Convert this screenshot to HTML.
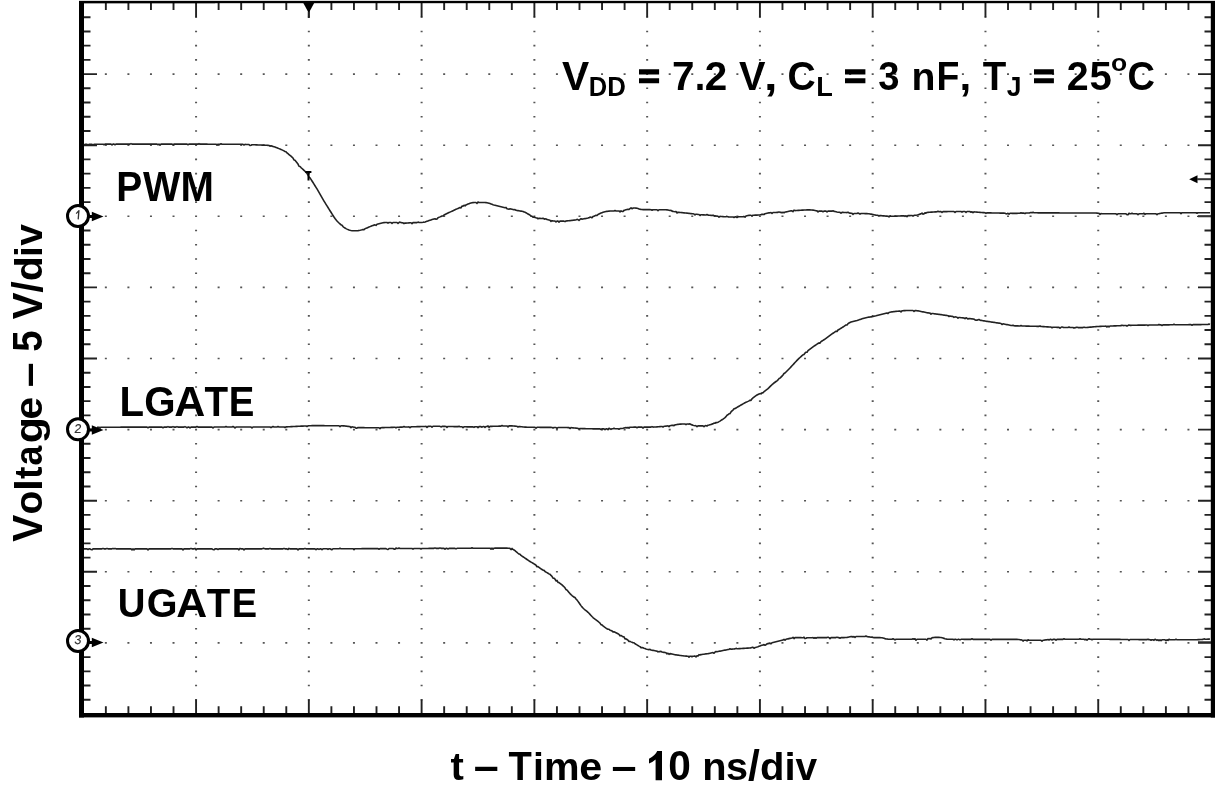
<!DOCTYPE html>
<html><head><meta charset="utf-8"><style>
html,body{margin:0;padding:0;background:#fff;width:1219px;height:792px;overflow:hidden}
svg{position:absolute;left:0;top:0;filter:grayscale(1)}
.t{position:absolute;font-family:"Liberation Sans",sans-serif;font-weight:bold;color:#000;white-space:nowrap;line-height:1}
</style></head><body>
<svg width="1219" height="792" viewBox="0 0 1219 792" font-family="Liberation Sans, sans-serif">
<path d="M104.85 73.3h2v1.6h-2zM127.41 73.3h2v1.6h-2zM149.96 73.3h2v1.6h-2zM172.52 73.3h2v1.6h-2zM217.62 73.3h2v1.6h-2zM240.18 73.3h2v1.6h-2zM262.73 73.3h2v1.6h-2zM285.29 73.3h2v1.6h-2zM330.39 73.3h2v1.6h-2zM352.95 73.3h2v1.6h-2zM375.5 73.3h2v1.6h-2zM398.06 73.3h2v1.6h-2zM443.16 73.3h2v1.6h-2zM465.72 73.3h2v1.6h-2zM488.27 73.3h2v1.6h-2zM510.83 73.3h2v1.6h-2zM555.93 73.3h2v1.6h-2zM578.49 73.3h2v1.6h-2zM601.04 73.3h2v1.6h-2zM623.6 73.3h2v1.6h-2zM668.7 73.3h2v1.6h-2zM691.26 73.3h2v1.6h-2zM713.81 73.3h2v1.6h-2zM736.37 73.3h2v1.6h-2zM781.47 73.3h2v1.6h-2zM804.03 73.3h2v1.6h-2zM826.58 73.3h2v1.6h-2zM849.14 73.3h2v1.6h-2zM894.24 73.3h2v1.6h-2zM916.8 73.3h2v1.6h-2zM939.35 73.3h2v1.6h-2zM961.91 73.3h2v1.6h-2zM1007.01 73.3h2v1.6h-2zM1029.57 73.3h2v1.6h-2zM1052.12 73.3h2v1.6h-2zM1074.68 73.3h2v1.6h-2zM1119.78 73.3h2v1.6h-2zM1142.34 73.3h2v1.6h-2zM1164.89 73.3h2v1.6h-2zM1187.45 73.3h2v1.6h-2zM104.85 144.4h2v1.6h-2zM127.41 144.4h2v1.6h-2zM149.96 144.4h2v1.6h-2zM172.52 144.4h2v1.6h-2zM217.62 144.4h2v1.6h-2zM240.18 144.4h2v1.6h-2zM262.73 144.4h2v1.6h-2zM285.29 144.4h2v1.6h-2zM330.39 144.4h2v1.6h-2zM352.95 144.4h2v1.6h-2zM375.5 144.4h2v1.6h-2zM398.06 144.4h2v1.6h-2zM443.16 144.4h2v1.6h-2zM465.72 144.4h2v1.6h-2zM488.27 144.4h2v1.6h-2zM510.83 144.4h2v1.6h-2zM555.93 144.4h2v1.6h-2zM578.49 144.4h2v1.6h-2zM601.04 144.4h2v1.6h-2zM623.6 144.4h2v1.6h-2zM668.7 144.4h2v1.6h-2zM691.26 144.4h2v1.6h-2zM713.81 144.4h2v1.6h-2zM736.37 144.4h2v1.6h-2zM781.47 144.4h2v1.6h-2zM804.03 144.4h2v1.6h-2zM826.58 144.4h2v1.6h-2zM849.14 144.4h2v1.6h-2zM894.24 144.4h2v1.6h-2zM916.8 144.4h2v1.6h-2zM939.35 144.4h2v1.6h-2zM961.91 144.4h2v1.6h-2zM1007.01 144.4h2v1.6h-2zM1029.57 144.4h2v1.6h-2zM1052.12 144.4h2v1.6h-2zM1074.68 144.4h2v1.6h-2zM1119.78 144.4h2v1.6h-2zM1142.34 144.4h2v1.6h-2zM1164.89 144.4h2v1.6h-2zM1187.45 144.4h2v1.6h-2zM104.85 215.5h2v1.6h-2zM127.41 215.5h2v1.6h-2zM149.96 215.5h2v1.6h-2zM172.52 215.5h2v1.6h-2zM217.62 215.5h2v1.6h-2zM240.18 215.5h2v1.6h-2zM262.73 215.5h2v1.6h-2zM285.29 215.5h2v1.6h-2zM330.39 215.5h2v1.6h-2zM352.95 215.5h2v1.6h-2zM375.5 215.5h2v1.6h-2zM398.06 215.5h2v1.6h-2zM443.16 215.5h2v1.6h-2zM465.72 215.5h2v1.6h-2zM488.27 215.5h2v1.6h-2zM510.83 215.5h2v1.6h-2zM555.93 215.5h2v1.6h-2zM578.49 215.5h2v1.6h-2zM601.04 215.5h2v1.6h-2zM623.6 215.5h2v1.6h-2zM668.7 215.5h2v1.6h-2zM691.26 215.5h2v1.6h-2zM713.81 215.5h2v1.6h-2zM736.37 215.5h2v1.6h-2zM781.47 215.5h2v1.6h-2zM804.03 215.5h2v1.6h-2zM826.58 215.5h2v1.6h-2zM849.14 215.5h2v1.6h-2zM894.24 215.5h2v1.6h-2zM916.8 215.5h2v1.6h-2zM939.35 215.5h2v1.6h-2zM961.91 215.5h2v1.6h-2zM1007.01 215.5h2v1.6h-2zM1029.57 215.5h2v1.6h-2zM1052.12 215.5h2v1.6h-2zM1074.68 215.5h2v1.6h-2zM1119.78 215.5h2v1.6h-2zM1142.34 215.5h2v1.6h-2zM1164.89 215.5h2v1.6h-2zM1187.45 215.5h2v1.6h-2zM104.85 286.6h2v1.6h-2zM127.41 286.6h2v1.6h-2zM149.96 286.6h2v1.6h-2zM172.52 286.6h2v1.6h-2zM217.62 286.6h2v1.6h-2zM240.18 286.6h2v1.6h-2zM262.73 286.6h2v1.6h-2zM285.29 286.6h2v1.6h-2zM330.39 286.6h2v1.6h-2zM352.95 286.6h2v1.6h-2zM375.5 286.6h2v1.6h-2zM398.06 286.6h2v1.6h-2zM443.16 286.6h2v1.6h-2zM465.72 286.6h2v1.6h-2zM488.27 286.6h2v1.6h-2zM510.83 286.6h2v1.6h-2zM555.93 286.6h2v1.6h-2zM578.49 286.6h2v1.6h-2zM601.04 286.6h2v1.6h-2zM623.6 286.6h2v1.6h-2zM668.7 286.6h2v1.6h-2zM691.26 286.6h2v1.6h-2zM713.81 286.6h2v1.6h-2zM736.37 286.6h2v1.6h-2zM781.47 286.6h2v1.6h-2zM804.03 286.6h2v1.6h-2zM826.58 286.6h2v1.6h-2zM849.14 286.6h2v1.6h-2zM894.24 286.6h2v1.6h-2zM916.8 286.6h2v1.6h-2zM939.35 286.6h2v1.6h-2zM961.91 286.6h2v1.6h-2zM1007.01 286.6h2v1.6h-2zM1029.57 286.6h2v1.6h-2zM1052.12 286.6h2v1.6h-2zM1074.68 286.6h2v1.6h-2zM1119.78 286.6h2v1.6h-2zM1142.34 286.6h2v1.6h-2zM1164.89 286.6h2v1.6h-2zM1187.45 286.6h2v1.6h-2zM104.85 357.7h2v1.6h-2zM127.41 357.7h2v1.6h-2zM149.96 357.7h2v1.6h-2zM172.52 357.7h2v1.6h-2zM217.62 357.7h2v1.6h-2zM240.18 357.7h2v1.6h-2zM262.73 357.7h2v1.6h-2zM285.29 357.7h2v1.6h-2zM330.39 357.7h2v1.6h-2zM352.95 357.7h2v1.6h-2zM375.5 357.7h2v1.6h-2zM398.06 357.7h2v1.6h-2zM443.16 357.7h2v1.6h-2zM465.72 357.7h2v1.6h-2zM488.27 357.7h2v1.6h-2zM510.83 357.7h2v1.6h-2zM555.93 357.7h2v1.6h-2zM578.49 357.7h2v1.6h-2zM601.04 357.7h2v1.6h-2zM623.6 357.7h2v1.6h-2zM668.7 357.7h2v1.6h-2zM691.26 357.7h2v1.6h-2zM713.81 357.7h2v1.6h-2zM736.37 357.7h2v1.6h-2zM781.47 357.7h2v1.6h-2zM804.03 357.7h2v1.6h-2zM826.58 357.7h2v1.6h-2zM849.14 357.7h2v1.6h-2zM894.24 357.7h2v1.6h-2zM916.8 357.7h2v1.6h-2zM939.35 357.7h2v1.6h-2zM961.91 357.7h2v1.6h-2zM1007.01 357.7h2v1.6h-2zM1029.57 357.7h2v1.6h-2zM1052.12 357.7h2v1.6h-2zM1074.68 357.7h2v1.6h-2zM1119.78 357.7h2v1.6h-2zM1142.34 357.7h2v1.6h-2zM1164.89 357.7h2v1.6h-2zM1187.45 357.7h2v1.6h-2zM104.85 428.8h2v1.6h-2zM127.41 428.8h2v1.6h-2zM149.96 428.8h2v1.6h-2zM172.52 428.8h2v1.6h-2zM217.62 428.8h2v1.6h-2zM240.18 428.8h2v1.6h-2zM262.73 428.8h2v1.6h-2zM285.29 428.8h2v1.6h-2zM330.39 428.8h2v1.6h-2zM352.95 428.8h2v1.6h-2zM375.5 428.8h2v1.6h-2zM398.06 428.8h2v1.6h-2zM443.16 428.8h2v1.6h-2zM465.72 428.8h2v1.6h-2zM488.27 428.8h2v1.6h-2zM510.83 428.8h2v1.6h-2zM555.93 428.8h2v1.6h-2zM578.49 428.8h2v1.6h-2zM601.04 428.8h2v1.6h-2zM623.6 428.8h2v1.6h-2zM668.7 428.8h2v1.6h-2zM691.26 428.8h2v1.6h-2zM713.81 428.8h2v1.6h-2zM736.37 428.8h2v1.6h-2zM781.47 428.8h2v1.6h-2zM804.03 428.8h2v1.6h-2zM826.58 428.8h2v1.6h-2zM849.14 428.8h2v1.6h-2zM894.24 428.8h2v1.6h-2zM916.8 428.8h2v1.6h-2zM939.35 428.8h2v1.6h-2zM961.91 428.8h2v1.6h-2zM1007.01 428.8h2v1.6h-2zM1029.57 428.8h2v1.6h-2zM1052.12 428.8h2v1.6h-2zM1074.68 428.8h2v1.6h-2zM1119.78 428.8h2v1.6h-2zM1142.34 428.8h2v1.6h-2zM1164.89 428.8h2v1.6h-2zM1187.45 428.8h2v1.6h-2zM104.85 499.9h2v1.6h-2zM127.41 499.9h2v1.6h-2zM149.96 499.9h2v1.6h-2zM172.52 499.9h2v1.6h-2zM217.62 499.9h2v1.6h-2zM240.18 499.9h2v1.6h-2zM262.73 499.9h2v1.6h-2zM285.29 499.9h2v1.6h-2zM330.39 499.9h2v1.6h-2zM352.95 499.9h2v1.6h-2zM375.5 499.9h2v1.6h-2zM398.06 499.9h2v1.6h-2zM443.16 499.9h2v1.6h-2zM465.72 499.9h2v1.6h-2zM488.27 499.9h2v1.6h-2zM510.83 499.9h2v1.6h-2zM555.93 499.9h2v1.6h-2zM578.49 499.9h2v1.6h-2zM601.04 499.9h2v1.6h-2zM623.6 499.9h2v1.6h-2zM668.7 499.9h2v1.6h-2zM691.26 499.9h2v1.6h-2zM713.81 499.9h2v1.6h-2zM736.37 499.9h2v1.6h-2zM781.47 499.9h2v1.6h-2zM804.03 499.9h2v1.6h-2zM826.58 499.9h2v1.6h-2zM849.14 499.9h2v1.6h-2zM894.24 499.9h2v1.6h-2zM916.8 499.9h2v1.6h-2zM939.35 499.9h2v1.6h-2zM961.91 499.9h2v1.6h-2zM1007.01 499.9h2v1.6h-2zM1029.57 499.9h2v1.6h-2zM1052.12 499.9h2v1.6h-2zM1074.68 499.9h2v1.6h-2zM1119.78 499.9h2v1.6h-2zM1142.34 499.9h2v1.6h-2zM1164.89 499.9h2v1.6h-2zM1187.45 499.9h2v1.6h-2zM104.85 571h2v1.6h-2zM127.41 571h2v1.6h-2zM149.96 571h2v1.6h-2zM172.52 571h2v1.6h-2zM217.62 571h2v1.6h-2zM240.18 571h2v1.6h-2zM262.73 571h2v1.6h-2zM285.29 571h2v1.6h-2zM330.39 571h2v1.6h-2zM352.95 571h2v1.6h-2zM375.5 571h2v1.6h-2zM398.06 571h2v1.6h-2zM443.16 571h2v1.6h-2zM465.72 571h2v1.6h-2zM488.27 571h2v1.6h-2zM510.83 571h2v1.6h-2zM555.93 571h2v1.6h-2zM578.49 571h2v1.6h-2zM601.04 571h2v1.6h-2zM623.6 571h2v1.6h-2zM668.7 571h2v1.6h-2zM691.26 571h2v1.6h-2zM713.81 571h2v1.6h-2zM736.37 571h2v1.6h-2zM781.47 571h2v1.6h-2zM804.03 571h2v1.6h-2zM826.58 571h2v1.6h-2zM849.14 571h2v1.6h-2zM894.24 571h2v1.6h-2zM916.8 571h2v1.6h-2zM939.35 571h2v1.6h-2zM961.91 571h2v1.6h-2zM1007.01 571h2v1.6h-2zM1029.57 571h2v1.6h-2zM1052.12 571h2v1.6h-2zM1074.68 571h2v1.6h-2zM1119.78 571h2v1.6h-2zM1142.34 571h2v1.6h-2zM1164.89 571h2v1.6h-2zM1187.45 571h2v1.6h-2zM104.85 642.1h2v1.6h-2zM127.41 642.1h2v1.6h-2zM149.96 642.1h2v1.6h-2zM172.52 642.1h2v1.6h-2zM217.62 642.1h2v1.6h-2zM240.18 642.1h2v1.6h-2zM262.73 642.1h2v1.6h-2zM285.29 642.1h2v1.6h-2zM330.39 642.1h2v1.6h-2zM352.95 642.1h2v1.6h-2zM375.5 642.1h2v1.6h-2zM398.06 642.1h2v1.6h-2zM443.16 642.1h2v1.6h-2zM465.72 642.1h2v1.6h-2zM488.27 642.1h2v1.6h-2zM510.83 642.1h2v1.6h-2zM555.93 642.1h2v1.6h-2zM578.49 642.1h2v1.6h-2zM601.04 642.1h2v1.6h-2zM623.6 642.1h2v1.6h-2zM668.7 642.1h2v1.6h-2zM691.26 642.1h2v1.6h-2zM713.81 642.1h2v1.6h-2zM736.37 642.1h2v1.6h-2zM781.47 642.1h2v1.6h-2zM804.03 642.1h2v1.6h-2zM826.58 642.1h2v1.6h-2zM849.14 642.1h2v1.6h-2zM894.24 642.1h2v1.6h-2zM916.8 642.1h2v1.6h-2zM939.35 642.1h2v1.6h-2zM961.91 642.1h2v1.6h-2zM1007.01 642.1h2v1.6h-2zM1029.57 642.1h2v1.6h-2zM1052.12 642.1h2v1.6h-2zM1074.68 642.1h2v1.6h-2zM1119.78 642.1h2v1.6h-2zM1142.34 642.1h2v1.6h-2zM1164.89 642.1h2v1.6h-2zM1187.45 642.1h2v1.6h-2zM195.07 16.42h2v1.6h-2zM195.07 30.64h2v1.6h-2zM195.07 44.86h2v1.6h-2zM195.07 59.08h2v1.6h-2zM195.07 87.52h2v1.6h-2zM195.07 101.74h2v1.6h-2zM195.07 115.96h2v1.6h-2zM195.07 130.18h2v1.6h-2zM195.07 158.62h2v1.6h-2zM195.07 172.84h2v1.6h-2zM195.07 187.06h2v1.6h-2zM195.07 201.28h2v1.6h-2zM195.07 229.72h2v1.6h-2zM195.07 243.94h2v1.6h-2zM195.07 258.16h2v1.6h-2zM195.07 272.38h2v1.6h-2zM195.07 300.82h2v1.6h-2zM195.07 315.04h2v1.6h-2zM195.07 329.26h2v1.6h-2zM195.07 343.48h2v1.6h-2zM195.07 371.92h2v1.6h-2zM195.07 386.14h2v1.6h-2zM195.07 400.36h2v1.6h-2zM195.07 414.58h2v1.6h-2zM195.07 443.02h2v1.6h-2zM195.07 457.24h2v1.6h-2zM195.07 471.46h2v1.6h-2zM195.07 485.68h2v1.6h-2zM195.07 514.12h2v1.6h-2zM195.07 528.34h2v1.6h-2zM195.07 542.56h2v1.6h-2zM195.07 556.78h2v1.6h-2zM195.07 585.22h2v1.6h-2zM195.07 599.44h2v1.6h-2zM195.07 613.66h2v1.6h-2zM195.07 627.88h2v1.6h-2zM195.07 656.32h2v1.6h-2zM195.07 670.54h2v1.6h-2zM195.07 684.76h2v1.6h-2zM195.07 698.98h2v1.6h-2zM307.84 16.42h2v1.6h-2zM307.84 30.64h2v1.6h-2zM307.84 44.86h2v1.6h-2zM307.84 59.08h2v1.6h-2zM307.84 87.52h2v1.6h-2zM307.84 101.74h2v1.6h-2zM307.84 115.96h2v1.6h-2zM307.84 130.18h2v1.6h-2zM307.84 158.62h2v1.6h-2zM307.84 172.84h2v1.6h-2zM307.84 187.06h2v1.6h-2zM307.84 201.28h2v1.6h-2zM307.84 229.72h2v1.6h-2zM307.84 243.94h2v1.6h-2zM307.84 258.16h2v1.6h-2zM307.84 272.38h2v1.6h-2zM307.84 300.82h2v1.6h-2zM307.84 315.04h2v1.6h-2zM307.84 329.26h2v1.6h-2zM307.84 343.48h2v1.6h-2zM307.84 371.92h2v1.6h-2zM307.84 386.14h2v1.6h-2zM307.84 400.36h2v1.6h-2zM307.84 414.58h2v1.6h-2zM307.84 443.02h2v1.6h-2zM307.84 457.24h2v1.6h-2zM307.84 471.46h2v1.6h-2zM307.84 485.68h2v1.6h-2zM307.84 514.12h2v1.6h-2zM307.84 528.34h2v1.6h-2zM307.84 542.56h2v1.6h-2zM307.84 556.78h2v1.6h-2zM307.84 585.22h2v1.6h-2zM307.84 599.44h2v1.6h-2zM307.84 613.66h2v1.6h-2zM307.84 627.88h2v1.6h-2zM307.84 656.32h2v1.6h-2zM307.84 670.54h2v1.6h-2zM307.84 684.76h2v1.6h-2zM307.84 698.98h2v1.6h-2zM420.61 16.42h2v1.6h-2zM420.61 30.64h2v1.6h-2zM420.61 44.86h2v1.6h-2zM420.61 59.08h2v1.6h-2zM420.61 87.52h2v1.6h-2zM420.61 101.74h2v1.6h-2zM420.61 115.96h2v1.6h-2zM420.61 130.18h2v1.6h-2zM420.61 158.62h2v1.6h-2zM420.61 172.84h2v1.6h-2zM420.61 187.06h2v1.6h-2zM420.61 201.28h2v1.6h-2zM420.61 229.72h2v1.6h-2zM420.61 243.94h2v1.6h-2zM420.61 258.16h2v1.6h-2zM420.61 272.38h2v1.6h-2zM420.61 300.82h2v1.6h-2zM420.61 315.04h2v1.6h-2zM420.61 329.26h2v1.6h-2zM420.61 343.48h2v1.6h-2zM420.61 371.92h2v1.6h-2zM420.61 386.14h2v1.6h-2zM420.61 400.36h2v1.6h-2zM420.61 414.58h2v1.6h-2zM420.61 443.02h2v1.6h-2zM420.61 457.24h2v1.6h-2zM420.61 471.46h2v1.6h-2zM420.61 485.68h2v1.6h-2zM420.61 514.12h2v1.6h-2zM420.61 528.34h2v1.6h-2zM420.61 542.56h2v1.6h-2zM420.61 556.78h2v1.6h-2zM420.61 585.22h2v1.6h-2zM420.61 599.44h2v1.6h-2zM420.61 613.66h2v1.6h-2zM420.61 627.88h2v1.6h-2zM420.61 656.32h2v1.6h-2zM420.61 670.54h2v1.6h-2zM420.61 684.76h2v1.6h-2zM420.61 698.98h2v1.6h-2zM533.38 16.42h2v1.6h-2zM533.38 30.64h2v1.6h-2zM533.38 44.86h2v1.6h-2zM533.38 59.08h2v1.6h-2zM533.38 87.52h2v1.6h-2zM533.38 101.74h2v1.6h-2zM533.38 115.96h2v1.6h-2zM533.38 130.18h2v1.6h-2zM533.38 158.62h2v1.6h-2zM533.38 172.84h2v1.6h-2zM533.38 187.06h2v1.6h-2zM533.38 201.28h2v1.6h-2zM533.38 229.72h2v1.6h-2zM533.38 243.94h2v1.6h-2zM533.38 258.16h2v1.6h-2zM533.38 272.38h2v1.6h-2zM533.38 300.82h2v1.6h-2zM533.38 315.04h2v1.6h-2zM533.38 329.26h2v1.6h-2zM533.38 343.48h2v1.6h-2zM533.38 371.92h2v1.6h-2zM533.38 386.14h2v1.6h-2zM533.38 400.36h2v1.6h-2zM533.38 414.58h2v1.6h-2zM533.38 443.02h2v1.6h-2zM533.38 457.24h2v1.6h-2zM533.38 471.46h2v1.6h-2zM533.38 485.68h2v1.6h-2zM533.38 514.12h2v1.6h-2zM533.38 528.34h2v1.6h-2zM533.38 542.56h2v1.6h-2zM533.38 556.78h2v1.6h-2zM533.38 585.22h2v1.6h-2zM533.38 599.44h2v1.6h-2zM533.38 613.66h2v1.6h-2zM533.38 627.88h2v1.6h-2zM533.38 656.32h2v1.6h-2zM533.38 670.54h2v1.6h-2zM533.38 684.76h2v1.6h-2zM533.38 698.98h2v1.6h-2zM646.15 16.42h2v1.6h-2zM646.15 30.64h2v1.6h-2zM646.15 44.86h2v1.6h-2zM646.15 59.08h2v1.6h-2zM646.15 87.52h2v1.6h-2zM646.15 101.74h2v1.6h-2zM646.15 115.96h2v1.6h-2zM646.15 130.18h2v1.6h-2zM646.15 158.62h2v1.6h-2zM646.15 172.84h2v1.6h-2zM646.15 187.06h2v1.6h-2zM646.15 201.28h2v1.6h-2zM646.15 229.72h2v1.6h-2zM646.15 243.94h2v1.6h-2zM646.15 258.16h2v1.6h-2zM646.15 272.38h2v1.6h-2zM646.15 300.82h2v1.6h-2zM646.15 315.04h2v1.6h-2zM646.15 329.26h2v1.6h-2zM646.15 343.48h2v1.6h-2zM646.15 371.92h2v1.6h-2zM646.15 386.14h2v1.6h-2zM646.15 400.36h2v1.6h-2zM646.15 414.58h2v1.6h-2zM646.15 443.02h2v1.6h-2zM646.15 457.24h2v1.6h-2zM646.15 471.46h2v1.6h-2zM646.15 485.68h2v1.6h-2zM646.15 514.12h2v1.6h-2zM646.15 528.34h2v1.6h-2zM646.15 542.56h2v1.6h-2zM646.15 556.78h2v1.6h-2zM646.15 585.22h2v1.6h-2zM646.15 599.44h2v1.6h-2zM646.15 613.66h2v1.6h-2zM646.15 627.88h2v1.6h-2zM646.15 656.32h2v1.6h-2zM646.15 670.54h2v1.6h-2zM646.15 684.76h2v1.6h-2zM646.15 698.98h2v1.6h-2zM758.92 16.42h2v1.6h-2zM758.92 30.64h2v1.6h-2zM758.92 44.86h2v1.6h-2zM758.92 59.08h2v1.6h-2zM758.92 87.52h2v1.6h-2zM758.92 101.74h2v1.6h-2zM758.92 115.96h2v1.6h-2zM758.92 130.18h2v1.6h-2zM758.92 158.62h2v1.6h-2zM758.92 172.84h2v1.6h-2zM758.92 187.06h2v1.6h-2zM758.92 201.28h2v1.6h-2zM758.92 229.72h2v1.6h-2zM758.92 243.94h2v1.6h-2zM758.92 258.16h2v1.6h-2zM758.92 272.38h2v1.6h-2zM758.92 300.82h2v1.6h-2zM758.92 315.04h2v1.6h-2zM758.92 329.26h2v1.6h-2zM758.92 343.48h2v1.6h-2zM758.92 371.92h2v1.6h-2zM758.92 386.14h2v1.6h-2zM758.92 400.36h2v1.6h-2zM758.92 414.58h2v1.6h-2zM758.92 443.02h2v1.6h-2zM758.92 457.24h2v1.6h-2zM758.92 471.46h2v1.6h-2zM758.92 485.68h2v1.6h-2zM758.92 514.12h2v1.6h-2zM758.92 528.34h2v1.6h-2zM758.92 542.56h2v1.6h-2zM758.92 556.78h2v1.6h-2zM758.92 585.22h2v1.6h-2zM758.92 599.44h2v1.6h-2zM758.92 613.66h2v1.6h-2zM758.92 627.88h2v1.6h-2zM758.92 656.32h2v1.6h-2zM758.92 670.54h2v1.6h-2zM758.92 684.76h2v1.6h-2zM758.92 698.98h2v1.6h-2zM871.69 16.42h2v1.6h-2zM871.69 30.64h2v1.6h-2zM871.69 44.86h2v1.6h-2zM871.69 59.08h2v1.6h-2zM871.69 87.52h2v1.6h-2zM871.69 101.74h2v1.6h-2zM871.69 115.96h2v1.6h-2zM871.69 130.18h2v1.6h-2zM871.69 158.62h2v1.6h-2zM871.69 172.84h2v1.6h-2zM871.69 187.06h2v1.6h-2zM871.69 201.28h2v1.6h-2zM871.69 229.72h2v1.6h-2zM871.69 243.94h2v1.6h-2zM871.69 258.16h2v1.6h-2zM871.69 272.38h2v1.6h-2zM871.69 300.82h2v1.6h-2zM871.69 315.04h2v1.6h-2zM871.69 329.26h2v1.6h-2zM871.69 343.48h2v1.6h-2zM871.69 371.92h2v1.6h-2zM871.69 386.14h2v1.6h-2zM871.69 400.36h2v1.6h-2zM871.69 414.58h2v1.6h-2zM871.69 443.02h2v1.6h-2zM871.69 457.24h2v1.6h-2zM871.69 471.46h2v1.6h-2zM871.69 485.68h2v1.6h-2zM871.69 514.12h2v1.6h-2zM871.69 528.34h2v1.6h-2zM871.69 542.56h2v1.6h-2zM871.69 556.78h2v1.6h-2zM871.69 585.22h2v1.6h-2zM871.69 599.44h2v1.6h-2zM871.69 613.66h2v1.6h-2zM871.69 627.88h2v1.6h-2zM871.69 656.32h2v1.6h-2zM871.69 670.54h2v1.6h-2zM871.69 684.76h2v1.6h-2zM871.69 698.98h2v1.6h-2zM984.46 16.42h2v1.6h-2zM984.46 30.64h2v1.6h-2zM984.46 44.86h2v1.6h-2zM984.46 59.08h2v1.6h-2zM984.46 87.52h2v1.6h-2zM984.46 101.74h2v1.6h-2zM984.46 115.96h2v1.6h-2zM984.46 130.18h2v1.6h-2zM984.46 158.62h2v1.6h-2zM984.46 172.84h2v1.6h-2zM984.46 187.06h2v1.6h-2zM984.46 201.28h2v1.6h-2zM984.46 229.72h2v1.6h-2zM984.46 243.94h2v1.6h-2zM984.46 258.16h2v1.6h-2zM984.46 272.38h2v1.6h-2zM984.46 300.82h2v1.6h-2zM984.46 315.04h2v1.6h-2zM984.46 329.26h2v1.6h-2zM984.46 343.48h2v1.6h-2zM984.46 371.92h2v1.6h-2zM984.46 386.14h2v1.6h-2zM984.46 400.36h2v1.6h-2zM984.46 414.58h2v1.6h-2zM984.46 443.02h2v1.6h-2zM984.46 457.24h2v1.6h-2zM984.46 471.46h2v1.6h-2zM984.46 485.68h2v1.6h-2zM984.46 514.12h2v1.6h-2zM984.46 528.34h2v1.6h-2zM984.46 542.56h2v1.6h-2zM984.46 556.78h2v1.6h-2zM984.46 585.22h2v1.6h-2zM984.46 599.44h2v1.6h-2zM984.46 613.66h2v1.6h-2zM984.46 627.88h2v1.6h-2zM984.46 656.32h2v1.6h-2zM984.46 670.54h2v1.6h-2zM984.46 684.76h2v1.6h-2zM984.46 698.98h2v1.6h-2zM1097.23 16.42h2v1.6h-2zM1097.23 30.64h2v1.6h-2zM1097.23 44.86h2v1.6h-2zM1097.23 59.08h2v1.6h-2zM1097.23 87.52h2v1.6h-2zM1097.23 101.74h2v1.6h-2zM1097.23 115.96h2v1.6h-2zM1097.23 130.18h2v1.6h-2zM1097.23 158.62h2v1.6h-2zM1097.23 172.84h2v1.6h-2zM1097.23 187.06h2v1.6h-2zM1097.23 201.28h2v1.6h-2zM1097.23 229.72h2v1.6h-2zM1097.23 243.94h2v1.6h-2zM1097.23 258.16h2v1.6h-2zM1097.23 272.38h2v1.6h-2zM1097.23 300.82h2v1.6h-2zM1097.23 315.04h2v1.6h-2zM1097.23 329.26h2v1.6h-2zM1097.23 343.48h2v1.6h-2zM1097.23 371.92h2v1.6h-2zM1097.23 386.14h2v1.6h-2zM1097.23 400.36h2v1.6h-2zM1097.23 414.58h2v1.6h-2zM1097.23 443.02h2v1.6h-2zM1097.23 457.24h2v1.6h-2zM1097.23 471.46h2v1.6h-2zM1097.23 485.68h2v1.6h-2zM1097.23 514.12h2v1.6h-2zM1097.23 528.34h2v1.6h-2zM1097.23 542.56h2v1.6h-2zM1097.23 556.78h2v1.6h-2zM1097.23 585.22h2v1.6h-2zM1097.23 599.44h2v1.6h-2zM1097.23 613.66h2v1.6h-2zM1097.23 627.88h2v1.6h-2zM1097.23 656.32h2v1.6h-2zM1097.23 670.54h2v1.6h-2zM1097.23 684.76h2v1.6h-2zM1097.23 698.98h2v1.6h-2zM195.07 73.3h2v1.6h-2zM195.07 144.4h2v1.6h-2zM195.07 215.5h2v1.6h-2zM195.07 286.6h2v1.6h-2zM195.07 357.7h2v1.6h-2zM195.07 428.8h2v1.6h-2zM195.07 499.9h2v1.6h-2zM195.07 571h2v1.6h-2zM195.07 642.1h2v1.6h-2zM307.84 73.3h2v1.6h-2zM307.84 144.4h2v1.6h-2zM307.84 215.5h2v1.6h-2zM307.84 286.6h2v1.6h-2zM307.84 357.7h2v1.6h-2zM307.84 428.8h2v1.6h-2zM307.84 499.9h2v1.6h-2zM307.84 571h2v1.6h-2zM307.84 642.1h2v1.6h-2zM420.61 73.3h2v1.6h-2zM420.61 144.4h2v1.6h-2zM420.61 215.5h2v1.6h-2zM420.61 286.6h2v1.6h-2zM420.61 357.7h2v1.6h-2zM420.61 428.8h2v1.6h-2zM420.61 499.9h2v1.6h-2zM420.61 571h2v1.6h-2zM420.61 642.1h2v1.6h-2zM533.38 73.3h2v1.6h-2zM533.38 144.4h2v1.6h-2zM533.38 215.5h2v1.6h-2zM533.38 286.6h2v1.6h-2zM533.38 357.7h2v1.6h-2zM533.38 428.8h2v1.6h-2zM533.38 499.9h2v1.6h-2zM533.38 571h2v1.6h-2zM533.38 642.1h2v1.6h-2zM646.15 73.3h2v1.6h-2zM646.15 144.4h2v1.6h-2zM646.15 215.5h2v1.6h-2zM646.15 286.6h2v1.6h-2zM646.15 357.7h2v1.6h-2zM646.15 428.8h2v1.6h-2zM646.15 499.9h2v1.6h-2zM646.15 571h2v1.6h-2zM646.15 642.1h2v1.6h-2zM758.92 73.3h2v1.6h-2zM758.92 144.4h2v1.6h-2zM758.92 215.5h2v1.6h-2zM758.92 286.6h2v1.6h-2zM758.92 357.7h2v1.6h-2zM758.92 428.8h2v1.6h-2zM758.92 499.9h2v1.6h-2zM758.92 571h2v1.6h-2zM758.92 642.1h2v1.6h-2zM871.69 73.3h2v1.6h-2zM871.69 144.4h2v1.6h-2zM871.69 215.5h2v1.6h-2zM871.69 286.6h2v1.6h-2zM871.69 357.7h2v1.6h-2zM871.69 428.8h2v1.6h-2zM871.69 499.9h2v1.6h-2zM871.69 571h2v1.6h-2zM871.69 642.1h2v1.6h-2zM984.46 73.3h2v1.6h-2zM984.46 144.4h2v1.6h-2zM984.46 215.5h2v1.6h-2zM984.46 286.6h2v1.6h-2zM984.46 357.7h2v1.6h-2zM984.46 428.8h2v1.6h-2zM984.46 499.9h2v1.6h-2zM984.46 571h2v1.6h-2zM984.46 642.1h2v1.6h-2zM1097.23 73.3h2v1.6h-2zM1097.23 144.4h2v1.6h-2zM1097.23 215.5h2v1.6h-2zM1097.23 286.6h2v1.6h-2zM1097.23 357.7h2v1.6h-2zM1097.23 428.8h2v1.6h-2zM1097.23 499.9h2v1.6h-2zM1097.23 571h2v1.6h-2zM1097.23 642.1h2v1.6h-2z" fill="#555"/>
<path d="M105.85 3v7M105.85 713v-6.8M128.41 3v7M128.41 713v-6.8M150.96 3v7M150.96 713v-6.8M173.52 3v7M173.52 713v-6.8M196.07 3v14M196.07 713v-13.5M218.62 3v7M218.62 713v-6.8M241.18 3v7M241.18 713v-6.8M263.73 3v7M263.73 713v-6.8M286.29 3v7M286.29 713v-6.8M308.84 3v14M308.84 713v-13.5M331.39 3v7M331.39 713v-6.8M353.95 3v7M353.95 713v-6.8M376.5 3v7M376.5 713v-6.8M399.06 3v7M399.06 713v-6.8M421.61 3v14M421.61 713v-13.5M444.16 3v7M444.16 713v-6.8M466.72 3v7M466.72 713v-6.8M489.27 3v7M489.27 713v-6.8M511.83 3v7M511.83 713v-6.8M534.38 3v14M534.38 713v-13.5M556.93 3v7M556.93 713v-6.8M579.49 3v7M579.49 713v-6.8M602.04 3v7M602.04 713v-6.8M624.6 3v7M624.6 713v-6.8M647.15 3v14M647.15 713v-13.5M669.7 3v7M669.7 713v-6.8M692.26 3v7M692.26 713v-6.8M714.81 3v7M714.81 713v-6.8M737.37 3v7M737.37 713v-6.8M759.92 3v14M759.92 713v-13.5M782.47 3v7M782.47 713v-6.8M805.03 3v7M805.03 713v-6.8M827.58 3v7M827.58 713v-6.8M850.14 3v7M850.14 713v-6.8M872.69 3v14M872.69 713v-13.5M895.24 3v7M895.24 713v-6.8M917.8 3v7M917.8 713v-6.8M940.35 3v7M940.35 713v-6.8M962.91 3v7M962.91 713v-6.8M985.46 3v14M985.46 713v-13.5M1008.01 3v7M1008.01 713v-6.8M1030.57 3v7M1030.57 713v-6.8M1053.12 3v7M1053.12 713v-6.8M1075.68 3v7M1075.68 713v-6.8M1098.23 3v14M1098.23 713v-13.5M1120.78 3v7M1120.78 713v-6.8M1143.34 3v7M1143.34 713v-6.8M1165.89 3v7M1165.89 713v-6.8M1188.45 3v7M1188.45 713v-6.8M84 17.22h6.5M1211 17.22h-6.5M84 31.44h6.5M1211 31.44h-6.5M84 45.66h6.5M1211 45.66h-6.5M84 59.88h6.5M1211 59.88h-6.5M84 74.1h13M1211 74.1h-13M84 88.32h6.5M1211 88.32h-6.5M84 102.54h6.5M1211 102.54h-6.5M84 116.76h6.5M1211 116.76h-6.5M84 130.98h6.5M1211 130.98h-6.5M84 145.2h13M1211 145.2h-13M84 159.42h6.5M1211 159.42h-6.5M84 173.64h6.5M1211 173.64h-6.5M84 187.86h6.5M1211 187.86h-6.5M84 202.08h6.5M1211 202.08h-6.5M84 216.3h13M1211 216.3h-13M84 230.52h6.5M1211 230.52h-6.5M84 244.74h6.5M1211 244.74h-6.5M84 258.96h6.5M1211 258.96h-6.5M84 273.18h6.5M1211 273.18h-6.5M84 287.4h13M1211 287.4h-13M84 301.62h6.5M1211 301.62h-6.5M84 315.84h6.5M1211 315.84h-6.5M84 330.06h6.5M1211 330.06h-6.5M84 344.28h6.5M1211 344.28h-6.5M84 358.5h13M1211 358.5h-13M84 372.72h6.5M1211 372.72h-6.5M84 386.94h6.5M1211 386.94h-6.5M84 401.16h6.5M1211 401.16h-6.5M84 415.38h6.5M1211 415.38h-6.5M84 429.6h13M1211 429.6h-13M84 443.82h6.5M1211 443.82h-6.5M84 458.04h6.5M1211 458.04h-6.5M84 472.26h6.5M1211 472.26h-6.5M84 486.48h6.5M1211 486.48h-6.5M84 500.7h13M1211 500.7h-13M84 514.92h6.5M1211 514.92h-6.5M84 529.14h6.5M1211 529.14h-6.5M84 543.36h6.5M1211 543.36h-6.5M84 557.58h6.5M1211 557.58h-6.5M84 571.8h13M1211 571.8h-13M84 586.02h6.5M1211 586.02h-6.5M84 600.24h6.5M1211 600.24h-6.5M84 614.46h6.5M1211 614.46h-6.5M84 628.68h6.5M1211 628.68h-6.5M84 642.9h13M1211 642.9h-13M84 657.12h6.5M1211 657.12h-6.5M84 671.34h6.5M1211 671.34h-6.5M84 685.56h6.5M1211 685.56h-6.5M84 699.78h6.5M1211 699.78h-6.5" stroke="#222" stroke-width="1.9" fill="none"/>
<rect x="79" y="0" width="1136" height="1.1" fill="#d8d8d8"/>
<rect x="79" y="1" width="136.2" height="2.2" fill="#000"/>
<rect x="79" y="1" width="1136" height="2.2" fill="#000"/>
<rect x="79" y="1" width="5" height="716.5" fill="#000"/>
<rect x="1210.8" y="1" width="4.2" height="716.5" fill="#000"/>
<rect x="79" y="713" width="1136" height="4.4" fill="#000"/>
<g fill="none" stroke="#222" stroke-width="1.6" stroke-linejoin="round"><path d="M84 145.29L85 144.38L86 144.38L87 144.36L88 145.25L89 144.34L90 144.33L91 144.32L92 144.31L93 145.20L94 144.28L95 144.27L96 144.26L97 144.25L98 144.24L99 144.23L100 144.22L101 144.20L102 144.19L103 144.18L104 144.77L105 144.16L106 144.15L107 144.14L108 144.13L109 144.12L110 144.11L111 144.11L112 145.00L113 144.10L114 144.10L115 144.70L116 144.10L117 144.11L118 144.11L119 144.11L120 144.11L121 144.11L122 144.11L123 144.11L124 144.11L125 144.11L126 144.11L127 144.11L128 144.11L129 144.11L130 144.12L131 143.62L132 144.12L133 144.12L134 144.12L135 144.12L136 144.12L137 144.12L138 144.12L139 144.12L140 144.12L141 144.12L142 144.12L143 144.13L144 144.13L145 144.13L146 144.13L147 144.13L148 144.13L149 144.13L150 144.13L151 144.13L152 144.13L153 144.13L154 144.13L155 144.13L156 144.14L157 144.14L158 144.74L159 144.14L160 145.04L161 144.14L162 144.14L163 144.14L164 144.14L165 144.14L166 144.14L167 144.14L168 144.14L169 144.15L170 144.15L171 144.15L172 144.15L173 144.75L174 144.15L175 144.15L176 144.15L177 144.15L178 144.15L179 144.15L180 144.15L181 144.15L182 144.16L183 144.16L184 144.16L185 144.16L186 144.16L187 144.16L188 144.76L189 144.16L190 144.16L191 144.16L192 144.16L193 144.16L194 144.16L195 144.17L196 144.17L197 144.17L198 144.17L199 143.67L200 144.17L201 144.17L202 144.17L203 144.17L204 144.17L205 144.17L206 144.17L207 144.17L208 144.18L209 144.18L210 144.18L211 144.18L212 144.18L213 144.18L214 144.18L215 144.18L216 144.18L217 145.08L218 144.18L219 144.18L220 144.18L221 143.69L222 144.19L223 144.19L224 144.19L225 144.19L226 144.19L227 144.19L228 144.19L229 144.19L230 144.19L231 144.19L232 144.19L233 144.19L234 144.20L235 144.20L236 144.20L237 144.20L238 144.21L239 144.21L240 144.23L241 144.26L242 144.29L243 144.32L244 144.96L245 144.40L246 144.44L247 144.48L248 144.52L249 144.57L250 145.51L251 145.25L252 144.69L253 144.73L254 144.77L255 144.81L256 144.85L257 144.89L258 144.93L259 144.97L260 145.01L261 145.05L262 145.09L263 145.13L264 145.17L265 145.21L266 145.25L267 145.30L268 145.37L269 145.48L270 146.23L271 145.85L272 146.12L273 146.42L274 146.75L275 147.10L276 147.46L277 147.83L278 148.22L279 148.62L280 149.02L281 149.44L282 149.87L283 150.35L284 150.89L285 151.51L286 151.70L287 152.95L288 153.74L289 154.54L290 155.36L291 156.20L292 157.07L293 158.02L294 159.97L295 160.23L296 161.49L297 162.80L298 164.11L299 166.27L300 166.52L301 167.57L302 168.51L303 169.41L304 170.31L305 171.27L306 172.36L307 173.58L308 174.93L309 176.98L310 177.88L311 179.42L312 180.98L313 182.55L314 184.12L315 185.70L316 187.30L317 188.92L318 190.58L319 192.29L320 194.03L321 195.80L322 197.57L323 199.32L324 201.03L325 202.70L326 204.33L327 205.94L328 207.53L329 209.12L330 210.71L331 212.30L332 213.89L333 215.46L334 216.99L335 218.43L336 219.75L337 220.95L338 222.02L339 223.01L340 223.95L341 224.87L342 225.25L343 226.59L344 227.35L345 228.02L346 228.60L347 229.12L348 229.58L349 229.99L350 230.33L351 230.57L352 230.71L353 230.78L354 230.80L355 230.78L356 230.75L357 230.70L358 230.60L359 230.46L360 230.27L361 230.03L362 229.75L363 229.44L364 229.70L365 228.74L366 228.35L367 227.93L368 227.50L369 227.07L370 226.64L371 226.22L372 225.83L373 225.46L374 225.13L375 224.83L376 225.44L377 224.26L378 223.99L379 223.72L380 223.46L381 223.20L382 222.98L383 222.79L384 222.65L385 222.57L386 222.53L387 222.51L388 223.10L389 222.50L390 222.50L391 222.50L392 223.40L393 222.50L394 222.50L395 222.50L396 222.50L397 222.50L398 223.41L399 222.54L400 222.08L401 222.65L402 222.75L403 222.87L404 223.58L405 223.05L406 223.08L407 223.05L408 222.98L409 222.90L410 222.82L411 222.75L412 223.61L413 222.67L414 222.65L415 222.63L416 222.62L417 222.60L418 222.09L419 222.57L420 222.55L421 222.51L422 222.45L423 222.33L424 222.16L425 221.91L426 221.61L427 221.27L428 220.92L429 220.57L430 220.23L431 219.91L432 219.60L433 219.30L434 219.01L435 218.71L436 219.31L437 218.98L438 217.72L439 217.32L440 216.89L441 216.42L442 215.95L443 216.07L444 214.98L445 214.50L446 214.01L447 213.53L448 213.05L449 212.57L450 212.10L451 211.64L452 211.18L453 210.72L454 210.26L455 209.80L456 209.34L457 208.88L458 208.43L459 207.97L460 207.52L461 207.97L462 206.12L463 206.18L464 205.25L465 205.92L466 204.89L467 204.48L468 204.07L469 203.68L470 203.32L471 203.02L472 202.79L473 202.64L474 202.56L475 202.52L476 202.51L477 203.40L478 202.00L479 202.50L480 202.50L481 202.50L482 202.50L483 202.50L484 202.51L485 202.54L486 202.61L487 202.74L488 202.95L489 203.22L490 203.56L491 203.92L492 204.29L493 204.65L494 204.98L495 205.28L496 205.56L497 205.82L498 206.07L499 206.31L500 206.55L501 206.79L502 207.02L503 207.24L504 207.46L505 207.68L506 207.40L507 208.72L508 208.95L509 209.18L510 208.83L511 209.08L512 209.33L513 209.59L514 209.84L515 209.57L516 210.29L517 210.48L518 210.66L519 210.82L520 210.97L521 211.14L522 211.32L523 211.56L524 211.88L525 212.29L526 212.79L527 213.35L528 213.94L529 214.53L530 215.10L531 216.25L532 216.17L533 217.26L534 217.10L535 217.48L536 217.78L537 217.99L538 218.75L539 218.26L540 218.36L541 218.46L542 218.58L543 218.22L544 218.90L545 219.10L546 218.82L547 219.55L548 219.78L549 220.01L550 220.24L551 221.37L552 220.67L553 220.84L554 220.96L555 221.05L556 222.00L557 221.12L558 221.14L559 222.05L560 221.16L561 221.16L562 221.16L563 221.15L564 221.12L565 221.67L566 220.99L567 220.90L568 220.80L569 220.69L570 220.58L571 220.48L572 220.37L573 220.26L574 220.15L575 220.04L576 219.93L577 219.32L578 219.70L579 220.47L580 219.43L581 218.78L582 219.12L583 218.96L584 218.80L585 218.63L586 218.46L587 218.27L588 218.06L589 217.81L590 217.02L591 217.20L592 217.75L593 216.49L594 216.13L595 215.75L596 215.36L597 215.55L598 214.50L599 214.03L600 213.55L601 213.09L602 212.68L603 212.33L604 212.04L605 211.79L606 211.58L607 211.39L608 211.24L609 211.13L610 211.06L611 211.02L612 211.01L613 211.00L614 211.00L615 210.50L616 211.00L617 211.00L618 210.99L619 210.98L620 211.84L621 210.86L622 211.34L623 211.46L624 210.35L625 210.10L626 209.82L627 209.52L628 209.20L629 209.48L630 208.59L631 207.85L632 208.78L633 208.09L634 208.05L635 208.07L636 208.15L637 208.33L638 208.59L639 208.90L640 209.19L641 209.40L642 209.53L643 209.60L644 209.62L645 209.64L646 209.64L647 209.65L648 209.66L649 209.66L650 209.67L651 209.68L652 210.28L653 209.69L654 209.70L655 209.70L656 209.71L657 209.72L658 210.62L659 209.73L660 209.74L661 209.75L662 209.75L663 209.76L664 209.77L665 209.78L666 209.81L667 209.88L668 210.02L669 210.23L670 210.51L671 210.32L672 211.11L673 211.36L674 211.58L675 211.77L676 211.44L677 212.99L678 212.23L679 212.35L680 212.46L681 212.57L682 212.67L683 212.77L684 212.86L685 212.96L686 213.06L687 213.16L688 213.26L689 213.37L690 213.47L691 213.59L692 213.70L693 213.82L694 213.94L695 214.96L696 214.18L697 214.30L698 214.42L699 214.53L700 215.52L701 214.71L702 214.78L703 214.83L704 214.89L705 214.94L706 215.00L707 214.56L708 215.13L709 215.22L710 215.32L711 215.42L712 215.53L713 215.15L714 215.76L715 215.87L716 215.99L717 216.10L718 216.21L719 217.21L720 216.41L721 216.49L722 216.57L723 216.63L724 216.69L725 216.75L726 216.80L727 216.35L728 216.90L729 216.93L730 216.95L731 216.95L732 216.94L733 216.93L734 217.51L735 216.89L736 216.87L737 217.45L738 216.83L739 216.81L740 216.78L741 216.75L742 216.70L743 216.60L744 216.45L745 217.14L746 215.99L747 215.74L748 215.53L749 215.39L750 215.30L751 215.26L752 216.13L753 215.21L754 215.19L755 215.17L756 215.14L757 215.10L758 215.04L759 214.94L760 214.79L761 214.61L762 214.40L763 214.18L764 214.54L765 213.71L766 213.48L767 213.25L768 213.05L769 212.87L770 212.73L771 212.63L772 213.47L773 212.53L774 212.50L775 212.47L776 212.45L777 212.42L778 212.40L779 211.87L780 212.35L781 212.32L782 212.89L783 212.25L784 212.79L785 212.07L786 211.90L787 211.67L788 211.43L789 211.20L790 211.02L791 210.89L792 210.80L793 211.62L794 210.15L795 210.59L796 210.52L797 210.46L798 210.40L799 210.33L800 210.27L801 210.20L802 210.14L803 210.08L804 210.02L805 209.98L806 209.94L807 209.92L808 209.91L809 209.91L810 209.91L811 209.94L812 210.00L813 210.11L814 210.29L815 210.51L816 210.73L817 210.90L818 211.91L819 211.07L820 211.09L821 211.10L822 211.10L823 211.70L824 211.10L825 211.10L826 211.10L827 212.00L828 211.10L829 211.10L830 211.10L831 211.12L832 211.16L833 210.74L834 211.38L835 211.58L836 211.81L837 212.02L838 212.18L839 212.28L840 212.34L841 213.27L842 212.39L843 212.41L844 212.43L845 212.46L846 212.52L847 212.61L848 212.25L849 212.93L850 213.12L851 213.29L852 213.41L853 214.37L854 213.51L855 213.52L856 213.53L857 213.54L858 213.04L859 213.55L860 214.15L861 213.56L862 213.56L863 213.57L864 213.57L865 213.58L866 213.60L867 213.63L868 213.69L869 213.79L870 213.94L871 214.12L872 214.33L873 214.54L874 214.75L875 214.95L876 215.12L877 215.26L878 215.37L879 216.07L880 215.56L881 215.65L882 215.74L883 215.83L884 215.91L885 216.00L886 216.08L887 216.16L888 216.23L889 216.88L890 215.80L891 216.30L892 216.28L893 216.25L894 216.21L895 216.16L896 216.12L897 216.08L898 216.03L899 215.99L900 215.95L901 215.91L902 215.87L903 215.84L904 215.80L905 216.37L906 215.73L907 216.60L908 215.67L909 215.63L910 215.60L911 215.57L912 215.53L913 216.08L914 215.42L915 215.32L916 215.17L917 214.97L918 214.72L919 214.43L920 214.12L921 213.81L922 213.00L923 214.11L924 213.85L925 212.73L926 213.16L927 212.43L928 212.34L929 212.27L930 212.21L931 212.14L932 212.08L933 212.02L934 211.96L935 211.90L936 211.84L937 211.78L938 211.23L939 211.68L940 211.65L941 211.62L942 212.50L943 211.59L944 211.59L945 211.58L946 211.58L947 211.58L948 211.57L949 211.57L950 211.57L951 211.56L952 211.56L953 211.56L954 211.55L955 212.45L956 211.55L957 211.54L958 211.54L959 211.54L960 211.53L961 211.53L962 212.13L963 211.52L964 211.52L965 211.52L966 212.41L967 211.52L968 211.53L969 211.55L970 211.59L971 212.25L972 211.72L973 212.69L974 211.87L975 211.95L976 212.03L977 212.11L978 212.19L979 212.28L980 212.36L981 212.44L982 212.52L983 212.59L984 212.66L985 212.72L986 213.38L987 212.81L988 212.84L989 212.87L990 212.89L991 212.91L992 212.93L993 212.95L994 212.97L995 212.99L996 213.01L997 213.03L998 213.05L999 213.07L1000 213.09L1001 213.11L1002 213.13L1003 213.15L1004 213.17L1005 213.19L1006 213.81L1007 213.83L1008 213.25L1009 214.17L1010 213.29L1011 213.31L1012 213.33L1013 213.35L1014 213.36L1015 213.36L1016 213.35L1017 213.33L1018 213.30L1019 213.27L1020 213.24L1021 212.70L1022 213.17L1023 213.13L1024 213.10L1025 213.67L1026 213.03L1027 213.00L1028 212.96L1029 212.93L1030 212.89L1031 212.37L1032 212.84L1033 212.33L1034 212.82L1035 212.82L1036 212.82L1037 212.82L1038 212.83L1039 212.83L1040 212.83L1041 212.84L1042 212.84L1043 212.85L1044 212.85L1045 212.86L1046 212.86L1047 212.87L1048 212.87L1049 212.88L1050 212.88L1051 212.89L1052 212.89L1053 212.90L1054 212.90L1055 212.91L1056 212.91L1057 212.92L1058 212.92L1059 212.92L1060 212.93L1061 212.93L1062 212.94L1063 212.94L1064 212.95L1065 212.95L1066 212.96L1067 212.96L1068 212.97L1069 212.97L1070 212.98L1071 212.98L1072 212.99L1073 212.99L1074 212.99L1075 213.00L1076 213.00L1077 213.00L1078 213.00L1079 213.00L1080 213.00L1081 213.00L1082 213.00L1083 213.00L1084 213.00L1085 213.00L1086 213.00L1087 213.00L1088 213.00L1089 213.00L1090 213.00L1091 213.00L1092 213.00L1093 213.00L1094 213.00L1095 213.01L1096 213.04L1097 213.10L1098 213.21L1099 213.35L1100 214.41L1101 213.64L1102 213.73L1103 213.77L1104 213.79L1105 213.80L1106 213.80L1107 213.80L1108 213.80L1109 213.80L1110 213.80L1111 213.80L1112 213.80L1113 213.80L1114 213.80L1115 213.80L1116 213.80L1117 214.70L1118 213.80L1119 213.80L1120 213.80L1121 213.80L1122 213.80L1123 213.80L1124 213.80L1125 213.80L1126 213.80L1127 214.70L1128 214.70L1129 213.30L1130 213.80L1131 213.80L1132 213.30L1133 213.80L1134 213.80L1135 213.80L1136 213.80L1137 213.80L1138 214.70L1139 213.80L1140 213.80L1141 213.80L1142 213.80L1143 213.80L1144 213.30L1145 214.40L1146 213.80L1147 213.80L1148 213.80L1149 213.80L1150 213.80L1151 213.80L1152 213.80L1153 213.80L1154 213.80L1155 213.80L1156 213.79L1157 214.67L1158 213.73L1159 213.64L1160 213.49L1161 213.29L1162 213.09L1163 212.92L1164 212.80L1165 212.74L1166 212.71L1167 212.70L1168 212.70L1169 212.70L1170 212.70L1171 212.70L1172 212.70L1173 212.70L1174 212.70L1175 212.70L1176 212.70L1177 212.70L1178 212.70L1179 212.70L1180 212.70L1181 213.60L1182 212.70L1183 212.70L1184 212.70L1185 212.70L1186 212.70L1187 212.70L1188 212.70L1189 212.70L1190 212.70L1191 212.70L1192 212.70L1193 212.70L1194 212.70L1195 212.70L1196 212.70L1197 213.30L1198 212.70L1199 212.70L1200 212.70L1201 212.70L1202 212.70L1203 212.70L1204 212.70L1205 212.70L1206 212.70L1207 212.70L1208 212.70L1209 212.70L1210 212.70"/><path d="M97 427.2L98 427.20L99 427.20L100 428.10L101 427.20L102 427.19L103 427.19L104 427.19L105 427.19L106 427.19L107 427.19L108 427.19L109 427.19L110 427.19L111 427.19L112 427.18L113 427.18L114 427.18L115 427.18L116 427.18L117 427.18L118 427.18L119 427.18L120 427.18L121 427.17L122 427.17L123 427.17L124 427.17L125 427.17L126 427.17L127 427.17L128 427.17L129 427.17L130 427.16L131 427.16L132 427.16L133 427.16L134 427.16L135 427.16L136 427.16L137 427.16L138 427.16L139 427.16L140 427.15L141 427.15L142 427.15L143 427.15L144 427.15L145 427.15L146 427.15L147 427.15L148 427.75L149 427.14L150 427.14L151 427.14L152 427.14L153 427.14L154 427.14L155 427.14L156 427.14L157 427.14L158 427.13L159 427.13L160 427.13L161 427.13L162 427.13L163 427.73L164 427.13L165 427.13L166 427.13L167 427.13L168 426.62L169 427.12L170 427.12L171 427.12L172 427.12L173 426.62L174 427.12L175 427.12L176 427.12L177 426.61L178 427.11L179 427.11L180 427.11L181 427.11L182 427.11L183 427.11L184 427.11L185 426.61L186 427.10L187 427.70L188 427.10L189 427.10L190 428.00L191 427.10L192 427.10L193 427.10L194 427.10L195 427.10L196 427.09L197 426.59L198 427.09L199 427.09L200 427.09L201 427.09L202 427.09L203 427.09L204 427.09L205 427.08L206 427.08L207 427.08L208 427.08L209 427.08L210 427.08L211 427.08L212 427.08L213 427.98L214 427.07L215 427.07L216 427.07L217 427.07L218 427.07L219 427.07L220 427.07L221 427.07L222 427.07L223 427.07L224 427.06L225 427.06L226 426.56L227 427.06L228 427.06L229 427.06L230 427.06L231 427.06L232 427.06L233 426.55L234 427.05L235 427.95L236 427.05L237 427.05L238 427.05L239 427.05L240 427.05L241 427.05L242 427.04L243 427.04L244 427.04L245 427.04L246 427.04L247 427.04L248 427.04L249 427.04L250 427.04L251 427.04L252 427.93L253 427.03L254 427.03L255 427.03L256 427.03L257 427.03L258 427.03L259 427.03L260 427.03L261 427.02L262 427.02L263 427.02L264 427.02L265 427.02L266 427.02L267 427.02L268 427.02L269 427.02L270 427.01L271 427.61L272 427.01L273 426.51L274 427.01L275 427.01L276 427.01L277 427.01L278 426.51L279 427.01L280 427.00L281 427.00L282 426.99L283 426.98L284 426.96L285 427.53L286 426.89L287 426.85L288 426.80L289 426.76L290 426.71L291 426.66L292 426.61L293 426.56L294 426.51L295 426.47L296 426.42L297 426.37L298 426.32L299 426.27L300 426.22L301 426.17L302 426.12L303 426.08L304 426.03L305 425.98L306 425.93L307 426.48L308 425.83L309 425.79L310 425.74L311 425.70L312 425.66L313 425.64L314 425.63L315 425.62L316 425.62L317 425.63L318 425.63L319 425.64L320 425.65L321 425.65L322 425.66L323 425.67L324 425.67L325 425.68L326 425.68L327 425.69L328 425.70L329 425.70L330 425.71L331 425.72L332 425.72L333 425.73L334 425.74L335 425.74L336 425.75L337 425.76L338 425.76L339 425.77L340 426.68L341 425.79L342 425.81L343 425.85L344 425.91L345 425.99L346 426.10L347 426.22L348 426.36L349 426.49L350 426.63L351 427.67L352 426.91L353 427.04L354 427.18L355 427.30L356 428.31L357 428.10L358 427.56L359 427.60L360 427.62L361 427.64L362 427.65L363 427.66L364 427.67L365 427.68L366 427.69L367 427.70L368 427.71L369 427.72L370 427.73L371 427.74L372 427.75L373 427.76L374 427.77L375 427.77L376 427.77L377 427.77L378 427.75L379 427.73L380 428.61L381 427.68L382 427.65L383 427.62L384 427.60L385 427.57L386 427.54L387 427.51L388 427.48L389 427.46L390 427.43L391 427.40L392 427.37L393 427.34L394 427.32L395 427.29L396 427.86L397 427.23L398 427.21L399 427.18L400 427.15L401 427.12L402 427.09L403 427.07L404 426.54L405 427.01L406 426.98L407 426.95L408 426.93L409 426.90L410 427.77L411 426.84L412 426.81L413 426.79L414 426.76L415 426.73L416 426.70L417 426.67L418 426.65L419 426.62L420 426.59L421 426.56L422 426.54L423 426.51L424 426.48L425 426.45L426 426.42L427 427.30L428 426.37L429 426.34L430 426.31L431 426.29L432 427.16L433 426.25L434 426.24L435 426.24L436 426.25L437 426.26L438 426.28L439 426.30L440 426.32L441 426.94L442 426.36L443 426.38L444 426.39L445 426.41L446 426.43L447 427.35L448 426.47L449 426.49L450 426.51L451 426.53L452 426.55L453 426.57L454 426.59L455 426.61L456 426.63L457 426.65L458 426.67L459 426.19L460 426.71L461 426.72L462 426.74L463 427.66L464 426.78L465 426.80L466 426.82L467 426.84L468 426.85L469 426.86L470 426.86L471 426.86L472 426.84L473 426.82L474 427.40L475 426.77L476 426.75L477 426.72L478 427.59L479 426.67L480 426.64L481 426.62L482 427.19L483 426.56L484 426.54L485 427.41L486 426.49L487 426.46L488 425.94L489 427.31L490 426.38L491 426.36L492 426.33L493 426.31L494 426.28L495 426.25L496 426.23L497 426.20L498 426.18L499 426.15L500 426.13L501 426.10L502 425.57L503 426.05L504 426.02L505 426.00L506 425.97L507 425.94L508 426.82L509 425.90L510 425.88L511 425.87L512 425.89L513 425.93L514 425.99L515 426.08L516 426.18L517 426.28L518 426.99L519 426.50L520 426.61L521 426.72L522 426.82L523 426.93L524 427.02L525 427.09L526 427.15L527 427.19L528 427.21L529 427.23L530 427.24L531 427.25L532 427.26L533 427.27L534 427.27L535 427.28L536 428.19L537 427.30L538 427.31L539 427.32L540 427.33L541 427.34L542 427.34L543 427.35L544 427.36L545 427.37L546 427.38L547 427.39L548 427.40L549 427.41L550 427.41L551 427.42L552 427.43L553 428.04L554 427.45L555 427.46L556 427.47L557 428.38L558 427.48L559 427.49L560 427.50L561 427.51L562 427.52L563 427.53L564 427.54L565 427.55L566 427.55L567 427.56L568 427.58L569 427.59L570 428.52L571 427.67L572 427.74L573 427.83L574 427.94L575 428.05L576 428.16L577 428.27L578 428.37L579 429.04L580 428.50L581 428.54L582 428.58L583 428.60L584 428.63L585 428.65L586 428.68L587 428.70L588 428.73L589 428.75L590 428.78L591 428.80L592 428.82L593 428.85L594 428.86L595 428.87L596 428.88L597 428.88L598 428.88L599 428.87L600 428.86L601 429.46L602 428.85L603 428.84L604 428.83L605 429.73L606 428.82L607 428.81L608 429.70L609 428.30L610 428.79L611 429.38L612 428.77L613 428.77L614 428.26L615 428.75L616 428.74L617 428.73L618 428.72L619 429.30L620 428.65L621 428.57L622 428.44L623 428.25L624 428.03L625 427.80L626 427.59L627 428.02L628 427.31L629 428.14L630 427.21L631 427.19L632 427.18L633 427.18L634 427.17L635 427.17L636 427.17L637 427.76L638 427.16L639 427.16L640 427.15L641 427.15L642 427.15L643 428.04L644 427.14L645 427.14L646 427.13L647 427.13L648 427.12L649 427.12L650 427.12L651 427.11L652 426.60L653 427.09L654 427.06L655 427.02L656 426.96L657 426.89L658 426.81L659 426.72L660 426.64L661 426.55L662 426.46L663 426.98L664 426.29L665 426.20L666 426.11L667 426.02L668 425.92L669 426.71L670 425.68L671 425.54L672 425.39L673 425.23L674 425.66L675 424.89L676 424.73L677 424.56L678 424.41L679 424.27L680 424.16L681 424.08L682 424.04L683 424.01L684 424.00L685 424.00L686 424.60L687 424.01L688 424.05L689 424.13L690 423.79L691 424.55L692 424.88L693 425.22L694 425.49L695 425.67L696 425.77L697 426.71L698 425.83L699 425.85L700 425.85L701 425.86L702 425.86L703 425.86L704 426.73L705 425.76L706 425.64L707 426.06L708 425.23L709 424.97L710 424.68L711 424.40L712 424.11L713 423.83L714 423.05L715 423.27L716 422.46L717 422.60L718 422.17L719 421.66L720 421.08L721 420.44L722 419.77L723 419.07L724 418.32L725 417.52L726 416.66L727 415.24L728 414.78L729 413.80L730 413.72L731 411.86L732 410.94L733 410.09L734 408.82L735 408.63L736 407.99L737 407.38L738 406.79L739 406.20L740 405.61L741 405.03L742 404.45L743 403.88L744 403.33L745 402.81L746 402.32L747 401.85L748 401.37L749 400.83L750 400.21L751 400.42L752 398.77L753 397.98L754 397.19L755 396.41L756 395.69L757 395.04L758 394.50L759 394.04L760 393.64L761 393.84L762 392.79L763 392.86L764 391.65L765 390.97L766 390.22L767 389.42L768 388.56L769 387.64L770 386.66L771 385.67L772 384.70L773 383.81L774 382.99L775 382.24L776 381.51L777 380.77L778 379.97L779 378.60L780 378.14L781 377.13L782 376.08L783 375.03L784 373.49L785 372.98L786 371.99L787 371.00L788 370.01L789 369.01L790 367.97L791 366.91L792 365.82L793 364.71L794 363.60L795 362.50L796 361.42L797 360.38L798 359.39L799 358.44L800 357.51L801 356.60L802 355.70L803 354.81L804 354.53L805 353.07L806 352.23L807 352.32L808 350.64L809 349.87L810 349.12L811 348.36L812 347.62L813 346.88L814 346.16L815 345.47L816 344.80L817 344.15L818 343.51L819 342.89L820 343.16L821 341.64L822 341.01L823 340.38L824 339.74L825 339.07L826 338.38L827 337.67L828 336.94L829 336.20L830 335.45L831 334.71L832 333.97L833 333.25L834 332.56L835 331.89L836 331.26L837 331.54L838 330.04L839 329.44L840 328.84L841 328.23L842 327.62L843 326.98L844 326.33L845 325.65L846 324.97L847 324.89L848 323.64L849 323.04L850 322.53L851 322.10L852 321.76L853 321.48L854 321.22L855 320.98L856 320.73L857 320.46L858 320.16L859 319.85L860 319.51L861 319.17L862 318.83L863 318.50L864 318.19L865 317.91L866 317.67L867 317.47L868 317.30L869 317.14L870 316.99L871 316.84L872 316.67L873 316.49L874 316.29L875 316.05L876 315.80L877 315.52L878 315.24L879 314.96L880 314.69L881 314.42L882 314.17L883 313.92L884 313.67L885 313.42L886 313.18L887 312.93L888 313.59L889 312.46L890 312.24L891 312.05L892 311.89L893 311.75L894 311.63L895 311.52L896 311.42L897 311.32L898 311.22L899 311.11L900 311.01L901 311.81L902 310.82L903 310.73L904 310.65L905 310.59L906 310.54L907 310.52L908 310.51L909 310.50L910 310.50L911 310.50L912 310.50L913 310.51L914 311.43L915 310.56L916 310.64L917 310.75L918 310.90L919 311.08L920 311.27L921 311.48L922 311.68L923 311.89L924 312.09L925 312.29L926 312.49L927 312.67L928 312.84L929 313.00L930 313.15L931 314.19L932 313.43L933 313.57L934 313.70L935 313.84L936 313.98L937 314.11L938 314.25L939 314.39L940 314.53L941 314.66L942 314.80L943 314.95L944 315.09L945 315.25L946 315.40L947 315.57L948 315.73L949 316.49L950 316.06L951 316.23L952 316.39L953 316.56L954 317.32L955 316.88L956 317.04L957 317.19L958 318.23L959 317.46L960 317.58L961 317.69L962 317.79L963 317.89L964 317.99L965 318.69L966 317.70L967 318.30L968 319.00L969 318.50L970 318.61L971 318.73L972 318.86L973 319.00L974 319.15L975 319.92L976 320.09L977 320.26L978 319.83L979 319.50L980 320.17L981 320.34L982 320.51L983 320.68L984 320.85L985 321.02L986 321.18L987 321.34L988 321.50L989 321.65L990 321.80L991 321.95L992 322.10L993 322.25L994 322.40L995 322.55L996 322.70L997 322.85L998 323.00L999 323.15L1000 323.30L1001 323.46L1002 324.53L1003 323.81L1004 324.00L1005 324.20L1006 324.41L1007 324.62L1008 324.83L1009 325.04L1010 325.24L1011 325.43L1012 325.58L1013 325.20L1014 325.78L1015 325.84L1016 325.87L1017 325.90L1018 325.92L1019 325.94L1020 325.96L1021 325.49L1022 326.01L1023 326.03L1024 326.05L1025 326.07L1026 326.09L1027 326.12L1028 326.14L1029 326.16L1030 326.18L1031 326.20L1032 326.23L1033 326.25L1034 326.27L1035 326.29L1036 326.31L1037 326.34L1038 326.36L1039 326.39L1040 325.93L1041 326.48L1042 326.53L1043 326.59L1044 326.65L1045 326.71L1046 326.77L1047 326.83L1048 326.89L1049 326.95L1050 327.01L1051 327.07L1052 327.73L1053 327.19L1054 327.23L1055 327.27L1056 327.30L1057 327.33L1058 327.34L1059 327.36L1060 328.27L1061 327.39L1062 326.90L1063 327.41L1064 327.43L1065 327.44L1066 327.45L1067 327.47L1068 327.48L1069 327.00L1070 327.51L1071 327.52L1072 327.54L1073 327.55L1074 328.16L1075 327.58L1076 327.59L1077 327.10L1078 327.62L1079 327.63L1080 327.64L1081 327.65L1082 327.66L1083 327.65L1084 327.12L1085 327.57L1086 327.51L1087 327.43L1088 327.34L1089 327.26L1090 327.17L1091 327.08L1092 326.99L1093 326.90L1094 326.82L1095 326.73L1096 326.64L1097 326.56L1098 326.49L1099 326.43L1100 326.37L1101 326.33L1102 326.29L1103 326.26L1104 326.23L1105 326.19L1106 326.16L1107 327.03L1108 326.10L1109 326.96L1110 326.03L1111 326.00L1112 325.97L1113 325.93L1114 325.90L1115 325.87L1116 325.83L1117 325.80L1118 325.77L1119 325.74L1120 325.70L1121 325.67L1122 325.14L1123 325.61L1124 325.57L1125 325.54L1126 325.51L1127 326.07L1128 325.44L1129 324.91L1130 325.38L1131 325.34L1132 325.31L1133 325.28L1134 325.25L1135 325.23L1136 325.20L1137 325.19L1138 325.17L1139 325.16L1140 325.14L1141 325.13L1142 325.12L1143 325.11L1144 325.10L1145 325.08L1146 325.07L1147 325.06L1148 325.65L1149 325.04L1150 325.02L1151 325.01L1152 325.00L1153 324.99L1154 324.98L1155 324.96L1156 324.95L1157 324.94L1158 324.93L1159 324.42L1160 324.91L1161 324.90L1162 325.49L1163 324.88L1164 324.87L1165 324.86L1166 324.86L1167 324.85L1168 324.84L1169 324.83L1170 324.82L1171 324.82L1172 324.81L1173 324.80L1174 324.29L1175 324.78L1176 324.78L1177 324.77L1178 324.76L1179 324.75L1180 324.74L1181 324.74L1182 324.73L1183 324.72L1184 324.71L1185 324.70L1186 324.70L1187 324.69L1188 324.68L1189 324.67L1190 324.66L1191 324.66L1192 325.25L1193 324.64L1194 324.63L1195 324.62L1196 324.62L1197 324.61L1198 324.60L1199 324.59L1200 324.58L1201 324.58L1202 324.57L1203 324.56L1204 324.55L1205 324.54L1206 324.54L1207 324.53L1208 324.52L1209 324.01L1210 324.51"/><path d="M84 548.9L85 548.90L86 548.90L87 548.90L88 549.50L89 548.90L90 548.90L91 549.50L92 549.80L93 548.90L94 548.90L95 548.90L96 548.90L97 548.90L98 548.90L99 548.90L100 548.90L101 548.90L102 548.90L103 548.40L104 548.90L105 548.90L106 548.90L107 548.40L108 548.90L109 548.90L110 548.90L111 548.90L112 548.90L113 548.40L114 548.90L115 548.40L116 548.90L117 548.90L118 548.90L119 548.90L120 548.90L121 548.90L122 548.90L123 548.90L124 548.90L125 548.90L126 548.90L127 548.90L128 548.90L129 548.90L130 548.90L131 548.90L132 549.80L133 548.90L134 549.80L135 548.90L136 548.90L137 548.90L138 548.90L139 548.90L140 548.90L141 548.90L142 548.90L143 548.90L144 548.90L145 548.90L146 548.90L147 548.90L148 549.80L149 548.90L150 548.90L151 548.90L152 548.90L153 548.90L154 548.90L155 548.90L156 548.90L157 548.90L158 548.90L159 548.90L160 548.90L161 548.90L162 548.90L163 548.90L164 548.90L165 548.90L166 548.90L167 548.90L168 548.90L169 548.90L170 548.90L171 548.90L172 548.40L173 548.90L174 548.90L175 548.90L176 548.90L177 548.90L178 548.90L179 548.90L180 548.90L181 548.90L182 548.90L183 549.80L184 548.90L185 548.90L186 548.90L187 548.90L188 548.90L189 548.90L190 548.90L191 548.40L192 548.90L193 548.90L194 548.90L195 548.40L196 549.80L197 548.90L198 548.90L199 548.90L200 548.90L201 548.90L202 548.90L203 548.90L204 548.90L205 548.90L206 548.90L207 548.90L208 548.90L209 548.90L210 548.90L211 548.90L212 548.90L213 549.50L214 549.80L215 548.90L216 548.90L217 548.90L218 549.50L219 548.90L220 548.90L221 548.90L222 548.90L223 548.90L224 548.90L225 548.90L226 548.90L227 548.90L228 548.90L229 548.90L230 548.90L231 548.90L232 548.90L233 548.90L234 548.90L235 548.90L236 548.90L237 548.90L238 548.90L239 549.80L240 548.40L241 548.90L242 548.90L243 548.90L244 549.80L245 548.90L246 548.90L247 548.90L248 548.90L249 548.90L250 548.90L251 548.90L252 548.90L253 548.90L254 548.90L255 548.90L256 548.90L257 548.90L258 548.90L259 548.90L260 548.90L261 548.90L262 548.90L263 548.40L264 548.40L265 548.90L266 548.90L267 548.90L268 548.90L269 548.90L270 548.40L271 548.90L272 548.90L273 548.90L274 548.90L275 548.90L276 548.90L277 548.90L278 548.90L279 548.90L280 548.90L281 548.90L282 548.90L283 548.90L284 548.40L285 548.90L286 548.90L287 548.90L288 549.50L289 548.40L290 548.90L291 548.90L292 548.90L293 548.90L294 548.90L295 548.90L296 548.90L297 548.90L298 549.80L299 548.90L300 548.90L301 548.89L302 548.89L303 548.89L304 548.89L305 548.38L306 548.88L307 548.87L308 548.87L309 548.87L310 548.86L311 548.86L312 548.86L313 548.85L314 548.85L315 548.84L316 549.74L317 548.84L318 548.83L319 549.43L320 548.83L321 548.82L322 549.72L323 548.82L324 548.81L325 548.81L326 548.80L327 548.80L328 549.40L329 548.79L330 548.79L331 549.39L332 549.68L333 548.78L334 548.77L335 548.77L336 548.77L337 548.76L338 548.76L339 548.76L340 548.25L341 548.75L342 548.75L343 548.74L344 548.74L345 548.73L346 548.73L347 548.73L348 548.72L349 548.72L350 548.72L351 548.71L352 548.71L353 548.70L354 549.60L355 548.70L356 548.69L357 548.69L358 548.69L359 548.68L360 548.68L361 548.68L362 548.67L363 548.67L364 548.66L365 548.66L366 548.66L367 548.65L368 548.65L369 548.65L370 548.64L371 548.64L372 548.63L373 548.63L374 548.63L375 548.62L376 548.62L377 548.62L378 548.61L379 549.21L380 548.61L381 548.60L382 548.60L383 548.59L384 548.59L385 548.59L386 548.58L387 549.18L388 549.48L389 548.57L390 548.57L391 548.56L392 548.56L393 548.56L394 549.15L395 549.15L396 548.05L397 548.54L398 548.54L399 548.04L400 548.53L401 548.53L402 548.52L403 548.52L404 548.52L405 548.51L406 548.51L407 548.51L408 548.50L409 548.50L410 548.49L411 548.49L412 548.49L413 549.08L414 548.48L415 548.48L416 548.47L417 548.47L418 548.47L419 548.46L420 548.46L421 549.05L422 548.45L423 548.45L424 548.44L425 548.44L426 548.44L427 548.43L428 548.43L429 548.42L430 548.42L431 548.42L432 548.41L433 548.41L434 548.41L435 547.90L436 548.40L437 548.40L438 548.39L439 548.39L440 547.88L441 548.38L442 548.38L443 548.37L444 548.37L445 549.27L446 548.36L447 548.36L448 548.95L449 548.35L450 548.35L451 548.34L452 548.34L453 548.34L454 548.33L455 548.33L456 548.93L457 548.32L458 548.32L459 548.31L460 548.31L461 548.31L462 548.30L463 548.30L464 548.30L465 548.29L466 548.29L467 548.28L468 548.28L469 548.28L470 548.27L471 548.27L472 547.77L473 548.26L474 548.26L475 548.26L476 548.25L477 548.25L478 548.24L479 548.24L480 548.24L481 548.23L482 548.23L483 548.23L484 548.22L485 548.22L486 548.21L487 548.21L488 548.21L489 548.20L490 548.20L491 549.09L492 548.19L493 549.08L494 548.18L495 548.17L496 548.17L497 548.16L498 548.16L499 548.15L500 548.15L501 548.14L502 548.14L503 548.13L504 548.13L505 548.13L506 548.13L507 548.14L508 548.18L509 548.26L510 548.41L511 549.54L512 548.46L513 549.40L514 549.97L515 550.69L516 551.52L517 552.40L518 553.25L519 554.05L520 554.27L521 555.45L522 556.10L523 556.75L524 557.41L525 558.08L526 558.77L527 559.47L528 560.15L529 560.82L530 561.46L531 562.07L532 562.67L533 563.27L534 563.89L535 564.53L536 565.21L537 566.81L538 566.63L539 567.36L540 568.09L541 568.81L542 569.51L543 570.19L544 570.34L545 571.46L546 572.07L547 572.68L548 573.30L549 573.95L550 574.16L551 575.45L552 576.31L553 578.14L554 578.19L555 579.14L556 580.96L557 580.43L558 582.35L559 582.53L560 583.30L561 584.09L562 584.93L563 585.83L564 586.80L565 587.84L566 589.54L567 590.10L568 591.29L569 592.46L570 593.59L571 594.61L572 595.52L573 596.34L574 597.13L575 597.46L576 598.93L577 600.07L578 601.37L579 602.78L580 604.22L581 605.62L582 606.90L583 608.03L584 609.00L585 609.83L586 610.60L587 611.40L588 612.29L589 613.29L590 614.37L591 615.48L592 616.55L593 617.54L594 618.41L595 619.20L596 619.93L597 620.66L598 621.43L599 622.25L600 623.12L601 624.63L602 624.93L603 625.81L604 626.64L605 627.41L606 628.12L607 628.75L608 629.30L609 629.27L610 630.19L611 630.57L612 630.94L613 631.93L614 631.73L615 632.18L616 632.67L617 633.20L618 633.76L619 634.33L620 635.82L621 635.50L622 636.11L623 636.73L624 636.88L625 638.97L626 638.79L627 639.51L628 640.20L629 641.43L630 641.38L631 641.86L632 642.29L633 642.72L634 642.68L635 643.72L636 644.31L637 644.95L638 645.56L639 646.12L640 646.62L641 647.66L642 647.47L643 647.86L644 648.24L645 648.59L646 648.92L647 649.20L648 649.44L649 649.65L650 649.35L651 650.03L652 650.21L653 650.39L654 650.57L655 650.75L656 650.92L657 651.09L658 651.87L659 651.44L660 651.62L661 651.30L662 651.98L663 652.17L664 652.37L665 652.58L666 652.79L667 653.90L668 653.21L669 654.33L670 653.64L671 653.85L672 654.06L673 654.27L674 654.48L675 654.67L676 654.85L677 655.01L678 655.16L679 655.30L680 655.44L681 655.57L682 655.70L683 655.82L684 655.94L685 656.03L686 656.11L687 656.16L688 656.18L689 657.09L690 656.20L691 656.20L692 656.80L693 656.19L694 656.17L695 656.11L696 656.88L697 655.76L698 656.08L699 654.66L700 654.87L701 654.64L702 654.45L703 654.31L704 654.18L705 654.05L706 653.91L707 653.77L708 653.61L709 653.42L710 653.22L711 653.01L712 652.80L713 652.58L714 653.26L715 652.15L716 651.43L717 651.72L718 651.52L719 651.31L720 651.11L721 650.91L722 650.71L723 650.51L724 650.32L725 650.12L726 649.94L727 649.75L728 649.58L729 649.42L730 648.79L731 649.18L732 649.09L733 649.02L734 648.95L735 648.89L736 648.33L737 648.77L738 648.71L739 648.65L740 648.59L741 648.52L742 648.46L743 648.40L744 648.34L745 648.28L746 648.22L747 648.16L748 648.10L749 648.04L750 647.98L751 647.92L752 647.35L753 647.28L754 648.28L755 647.55L756 647.35L757 647.08L758 646.74L759 646.36L760 645.96L761 645.58L762 645.22L763 644.91L764 644.62L765 645.26L766 644.71L767 643.87L768 643.63L769 643.39L770 643.15L771 643.81L772 642.68L773 642.44L774 642.20L775 641.97L776 641.73L777 641.50L778 641.26L779 641.02L780 640.78L781 640.54L782 640.30L783 640.06L784 639.31L785 640.17L786 639.33L787 639.09L788 638.85L789 638.62L790 638.39L791 638.18L792 637.98L793 637.31L794 638.59L795 637.62L796 637.60L797 637.60L798 637.61L799 637.64L800 637.66L801 637.67L802 637.68L803 637.69L804 637.19L805 638.59L806 638.29L807 637.69L808 637.69L809 637.68L810 637.68L811 637.68L812 637.68L813 637.67L814 638.27L815 637.67L816 638.27L817 637.67L818 637.66L819 637.66L820 637.66L821 637.66L822 637.66L823 637.65L824 637.65L825 637.65L826 637.65L827 637.64L828 637.14L829 637.64L830 638.54L831 637.64L832 637.63L833 637.63L834 637.63L835 637.63L836 637.63L837 637.12L838 637.62L839 637.62L840 638.22L841 637.61L842 637.61L843 637.61L844 637.59L845 637.56L846 637.50L847 637.38L848 637.20L849 637.00L850 636.80L851 636.66L852 636.57L853 637.12L854 636.51L855 637.40L856 636.50L857 636.50L858 636.50L859 636.50L860 636.50L861 636.50L862 636.50L863 636.50L864 636.50L865 636.51L866 636.03L867 636.58L868 636.69L869 636.85L870 637.06L871 637.27L872 636.93L873 637.53L874 637.58L875 637.59L876 637.60L877 637.60L878 637.60L879 637.61L880 637.63L881 637.70L882 637.83L883 638.04L884 638.33L885 638.62L886 638.88L887 639.05L888 639.15L889 639.19L890 639.21L891 639.21L892 639.21L893 638.72L894 639.22L895 639.82L896 639.22L897 639.23L898 639.23L899 639.23L900 639.23L901 639.24L902 639.24L903 639.24L904 639.24L905 639.24L906 639.25L907 639.25L908 639.25L909 639.25L910 639.26L911 639.26L912 639.26L913 638.76L914 639.27L915 638.77L916 640.17L917 639.27L918 639.27L919 639.28L920 639.28L921 639.28L922 639.28L923 639.29L924 639.29L925 639.28L926 639.25L927 640.08L928 638.52L929 638.77L930 638.44L931 638.99L932 637.79L933 637.58L934 637.47L935 637.42L936 637.41L937 637.40L938 637.40L939 637.42L940 637.46L941 637.55L942 637.74L943 638.02L944 638.37L945 638.71L946 638.99L947 639.16L948 639.25L949 639.29L950 639.30L951 639.31L952 639.31L953 639.31L954 639.91L955 639.31L956 639.31L957 639.92L958 639.32L959 639.32L960 639.92L961 639.32L962 639.32L963 639.32L964 639.33L965 639.33L966 639.33L967 639.33L968 639.33L969 639.33L970 639.33L971 639.33L972 638.84L973 639.34L974 639.34L975 639.34L976 639.34L977 639.34L978 639.34L979 639.35L980 639.35L981 639.35L982 639.35L983 639.35L984 639.35L985 639.35L986 639.35L987 639.36L988 639.36L989 639.36L990 639.36L991 640.26L992 639.36L993 639.36L994 639.37L995 639.37L996 639.37L997 639.37L998 639.37L999 639.37L1000 639.37L1001 639.37L1002 639.38L1003 639.38L1004 639.38L1005 639.38L1006 639.38L1007 639.38L1008 639.38L1009 639.39L1010 639.39L1011 639.39L1012 639.39L1013 639.39L1014 639.39L1015 639.40L1016 639.40L1017 639.42L1018 639.46L1019 639.55L1020 639.68L1021 639.85L1022 640.02L1023 641.05L1024 640.23L1025 640.28L1026 640.29L1027 640.90L1028 639.80L1029 640.30L1030 640.30L1031 640.30L1032 640.30L1033 640.30L1034 640.30L1035 640.30L1036 640.30L1037 640.30L1038 640.30L1039 640.30L1040 640.30L1041 640.29L1042 641.18L1043 640.23L1044 640.15L1045 640.02L1046 639.85L1047 639.68L1048 639.55L1049 640.06L1050 639.41L1051 639.39L1052 639.98L1053 639.38L1054 639.37L1055 639.37L1056 640.26L1057 639.36L1058 639.35L1059 639.35L1060 639.35L1061 639.34L1062 639.34L1063 639.33L1064 638.83L1065 639.32L1066 639.32L1067 639.32L1068 639.31L1069 639.31L1070 639.30L1071 639.30L1072 639.30L1073 639.29L1074 639.29L1075 639.28L1076 639.28L1077 639.28L1078 639.27L1079 639.27L1080 638.76L1081 639.26L1082 639.25L1083 639.25L1084 639.25L1085 639.84L1086 639.24L1087 640.13L1088 639.23L1089 638.73L1090 639.22L1091 639.22L1092 639.81L1093 639.21L1094 639.21L1095 639.21L1096 639.21L1097 639.22L1098 639.23L1099 639.23L1100 639.24L1101 639.25L1102 639.26L1103 639.27L1104 639.28L1105 639.29L1106 639.30L1107 639.30L1108 639.31L1109 639.32L1110 639.33L1111 639.34L1112 639.35L1113 639.36L1114 639.37L1115 639.37L1116 639.38L1117 639.39L1118 639.40L1119 639.41L1120 639.42L1121 639.43L1122 639.43L1123 639.44L1124 639.45L1125 639.46L1126 639.47L1127 639.48L1128 639.49L1129 640.40L1130 639.50L1131 639.51L1132 639.52L1133 639.53L1134 639.54L1135 639.55L1136 639.56L1137 639.57L1138 639.57L1139 639.58L1140 639.59L1141 639.60L1142 639.61L1143 639.62L1144 639.63L1145 639.63L1146 639.64L1147 639.65L1148 639.16L1149 639.67L1150 639.68L1151 640.29L1152 639.70L1153 639.70L1154 640.31L1155 639.22L1156 639.73L1157 640.34L1158 639.75L1159 640.66L1160 639.77L1161 640.67L1162 639.78L1163 639.79L1164 639.79L1165 639.80L1166 640.70L1167 639.80L1168 640.40L1169 639.30L1170 639.80L1171 639.80L1172 639.80L1173 639.80L1174 639.80L1175 639.80L1176 639.30L1177 639.80L1178 639.80L1179 639.80L1180 639.80L1181 639.80L1182 639.80L1183 639.80L1184 639.80L1185 639.80L1186 639.80L1187 639.80L1188 639.80L1189 639.80L1190 639.80L1191 639.80L1192 639.80L1193 639.80L1194 639.79L1195 639.77L1196 639.75L1197 639.72L1198 639.67L1199 639.62L1200 639.57L1201 639.52L1202 639.46L1203 639.41L1204 638.85L1205 639.30L1206 639.25L1207 639.19L1208 639.14L1209 639.10L1210 639.06"/></g>
<path d="M1197 216.3H1211M1198 641.9H1211" stroke="#333" stroke-width="1.3"/>
<path d="M305.4 172.1H311.4M308.5 172V180.5" stroke="#000" stroke-width="2"/>
<path d="M303.3 3H314.2L308.75 13z" fill="#000"/>
<path d="M308.75 12v6" stroke="#222" stroke-width="1.8"/>
<path d="M1189.2 179.2L1197.5 175.2V183.2z" fill="#000"/><path d="M1197 179.2H1211" stroke="#333" stroke-width="2"/>
<path d="M89 216.5H93" stroke="#000" stroke-width="3"/>
<path d="M91.8 211.7L103.5 216.5L91.8 221.3z" fill="#000"/>
<circle cx="78" cy="216" r="10.5" fill="#fff" stroke="#000" stroke-width="3"/>
<path d="M76.2 213.6L78.9 210.6L78.2 219.4" fill="none" stroke="#333" stroke-width="1.3" stroke-linejoin="round"/>
<path d="M89 430H93" stroke="#000" stroke-width="3"/>
<path d="M91.8 425.2L103.5 430L91.8 434.8z" fill="#000"/>
<circle cx="78" cy="429.3" r="10.5" fill="#fff" stroke="#000" stroke-width="3"/>
<text x="78.1" y="432.6" font-size="12.8" text-anchor="middle" fill="#333" stroke="#333" stroke-width="0.15" transform="skewX(-6)" style="transform-box:fill-box;transform-origin:center">2</text>
<path d="M89 642.5H93" stroke="#000" stroke-width="3"/>
<path d="M91.8 637.7L103.5 642.5L91.8 647.3z" fill="#000"/>
<circle cx="78" cy="641" r="10.5" fill="#fff" stroke="#000" stroke-width="3"/>
<text x="78.1" y="644.3" font-size="12.8" text-anchor="middle" fill="#333" stroke="#333" stroke-width="0.15" transform="skewX(-6)" style="transform-box:fill-box;transform-origin:center">3</text>
<g font-weight="bold" fill="#000"><g font-size="41.6"><text transform="matrix(0.9360 0 0 1 119.00 200.90)" x="-2.81">P</text><text transform="matrix(0.9513 0 0 1 143.10 200.90)" x="-0.10">W</text><text transform="matrix(0.9650 0 0 1 183.10 200.90)" x="-2.81">M</text></g><g font-size="41.7"><text transform="matrix(0.9639 0 0 1 122.30 415.80)" x="-2.81">L</text><text transform="matrix(0.9663 0 0 1 145.90 415.80)" x="-1.67">G</text><text transform="matrix(1.0308 0 0 1 175.30 415.80)" x="-1.04">A</text><text transform="matrix(0.9267 0 0 1 204.80 415.80)" x="-0.42">T</text><text transform="matrix(0.9207 0 0 1 231.40 415.80)" x="-2.81">E</text></g><g font-size="41.45"><text transform="matrix(0.9248 0 0 1 120.10 616.60)" x="-2.49">U</text><text transform="matrix(0.9543 0 0 1 148.20 616.60)" x="-1.66">G</text><text transform="matrix(1.0334 0 0 1 177.30 616.60)" x="-1.04">A</text><text transform="matrix(0.9282 0 0 1 207.10 616.60)" x="-0.41">T</text><text transform="matrix(0.9176 0 0 1 234.20 616.60)" x="-2.80">E</text></g><g font-size="41.3"><text transform="matrix(0.9871 0 0 1 562.20 90.30)" x="-0.31">V</text><path d="M639.00 69.30H659.10V74.60H639.00ZM639.00 78.30H659.10V83.20H639.00Z"/><text transform="matrix(0.9788 0 0 1 673.70 90.30)" x="-1.76">7</text><text transform="matrix(0.9175 0 0 1 697.20 90.30)" x="-2.79">.</text><text transform="matrix(0.9786 0 0 1 706.20 90.30)" x="-1.45">2</text><text transform="matrix(0.9611 0 0 1 739.20 90.30)" x="-0.31">V</text><text transform="matrix(1.1761 0 0 1 767.50 90.30)" x="-2.89">,</text><text transform="matrix(0.9463 0 0 1 789.10 90.30)" x="-1.65">C</text><path d="M845.00 69.30H865.40V74.60H845.00ZM845.00 78.30H865.40V83.20H845.00Z"/><text transform="matrix(0.9247 0 0 1 879.20 90.30)" x="-0.93">3</text><text transform="matrix(0.9486 0 0 0.94 914.00 90.30)" x="-2.68">n</text><text transform="matrix(0.9065 0 0 1 938.90 90.30)" x="-2.79">F</text><text transform="matrix(1.0204 0 0 1 962.50 90.30)" x="-2.89">,</text><text transform="matrix(0.9316 0 0 1 983.10 90.30)" x="-0.41">T</text><path d="M1034.00 69.30H1053.90V74.60H1034.00ZM1034.00 78.30H1053.90V83.20H1034.00Z"/><text transform="matrix(0.9534 0 0 1 1068.10 90.30)" x="-1.45">2</text><text transform="matrix(0.9734 0 0 1 1090.70 90.30)" x="-1.34">5</text><text transform="matrix(0.9205 0 0 1 1129.00 90.30)" x="-1.65">C</text></g><g font-size="26.8"><text transform="matrix(0.9504 0 0 1 590.40 95.70)" x="-1.81">D</text><text transform="matrix(0.9625 0 0 1 609.10 95.70)" x="-1.81">D</text><text transform="matrix(1.0120 0 0 1 818.00 95.70)" x="-1.81">L</text><text transform="matrix(0.9871 0 0 1 1007.10 95.70)" x="-0.40">J</text></g><g font-size="24.5"><text transform="matrix(1.0808 0 0 1 1112.00 71.00)" x="-0.98">o</text></g><g font-size="41.6"><text transform="matrix(0.9615 0 0 0.94 451.00 780.00)" x="-0.52">t</text><text transform="matrix(1.0781 0 0 1 475.20 780.00)" x="-1.25">&#8211;</text><text transform="matrix(0.9167 0 0 1 508.90 780.00)" x="-0.42">T</text><text transform="matrix(0.9441 0 0 0.94 535.80 780.00)" x="-2.91">i</text><text transform="matrix(0.9615 0 0 0.94 546.50 780.00)" x="-2.70">m</text><text transform="matrix(0.9914 0 0 0.94 580.80 780.00)" x="-1.66">e</text><text transform="matrix(1.0829 0 0 1 612.80 780.00)" x="-1.25">&#8211;</text><path transform="translate(649.00 780.00)" d="M13 -29.1V0.2H6.6V-20.5Q3.6-17.8 0-16.5V-21.3Q3-22.6 5.3-24.9Q7.3-26.9 8.2-29.1Z"/><text transform="matrix(0.9767 0 0 1 669.90 780.00)" x="-1.66">0</text><text transform="matrix(0.9566 0 0 0.94 704.80 780.00)" x="-2.70">n</text><text transform="matrix(0.9515 0 0 0.94 727.40 780.00)" x="-1.46">s</text><text transform="matrix(1.0269 0 0 1 748.50 780.00)" x="-0.42">/</text><text transform="matrix(0.9615 0 0 0.94 761.60 780.00)" x="-1.66">d</text><text transform="matrix(0.9615 0 0 0.94 787.30 780.00)" x="-2.91">i</text><text transform="matrix(0.9351 0 0 0.94 795.60 780.00)" x="-0.21">v</text></g><g font-size="41.6" transform="translate(41.8 0) rotate(-90)"><text transform="matrix(0.9726 0 0 1 -541.40 0.00)" x="-0.31">V</text><text transform="matrix(0.9390 0 0 0.94 -512.90 0.00)" x="-1.66">o</text><text transform="matrix(1.0315 0 0 0.94 -488.00 0.00)" x="-2.91">l</text><text transform="matrix(0.8912 0 0 0.94 -478.50 0.00)" x="-0.52">t</text><text transform="matrix(0.8577 0 0 0.94 -464.50 0.00)" x="-1.25">a</text><text transform="matrix(1.0282 0 0 0.94 -441.50 0.00)" x="-1.66">g</text><text transform="matrix(0.9765 0 0 0.94 -418.00 0.00)" x="-1.66">e</text><text transform="matrix(1.0732 0 0 1 -386.00 0.00)" x="-1.25">&#8211;</text><text transform="matrix(0.9178 0 0 1 -350.60 0.00)" x="-1.35">5</text><text transform="matrix(0.9652 0 0 1 -318.90 0.00)" x="-0.31">V</text><text transform="matrix(0.9895 0 0 1 -292.30 0.00)" x="-0.42">/</text><text transform="matrix(0.9853 0 0 0.94 -279.70 0.00)" x="-1.66">d</text><text transform="matrix(0.8916 0 0 0.94 -254.20 0.00)" x="-2.91">i</text><text transform="matrix(0.9351 0 0 0.94 -245.60 0.00)" x="-0.21">v</text></g></g>
</svg>
</body></html>
